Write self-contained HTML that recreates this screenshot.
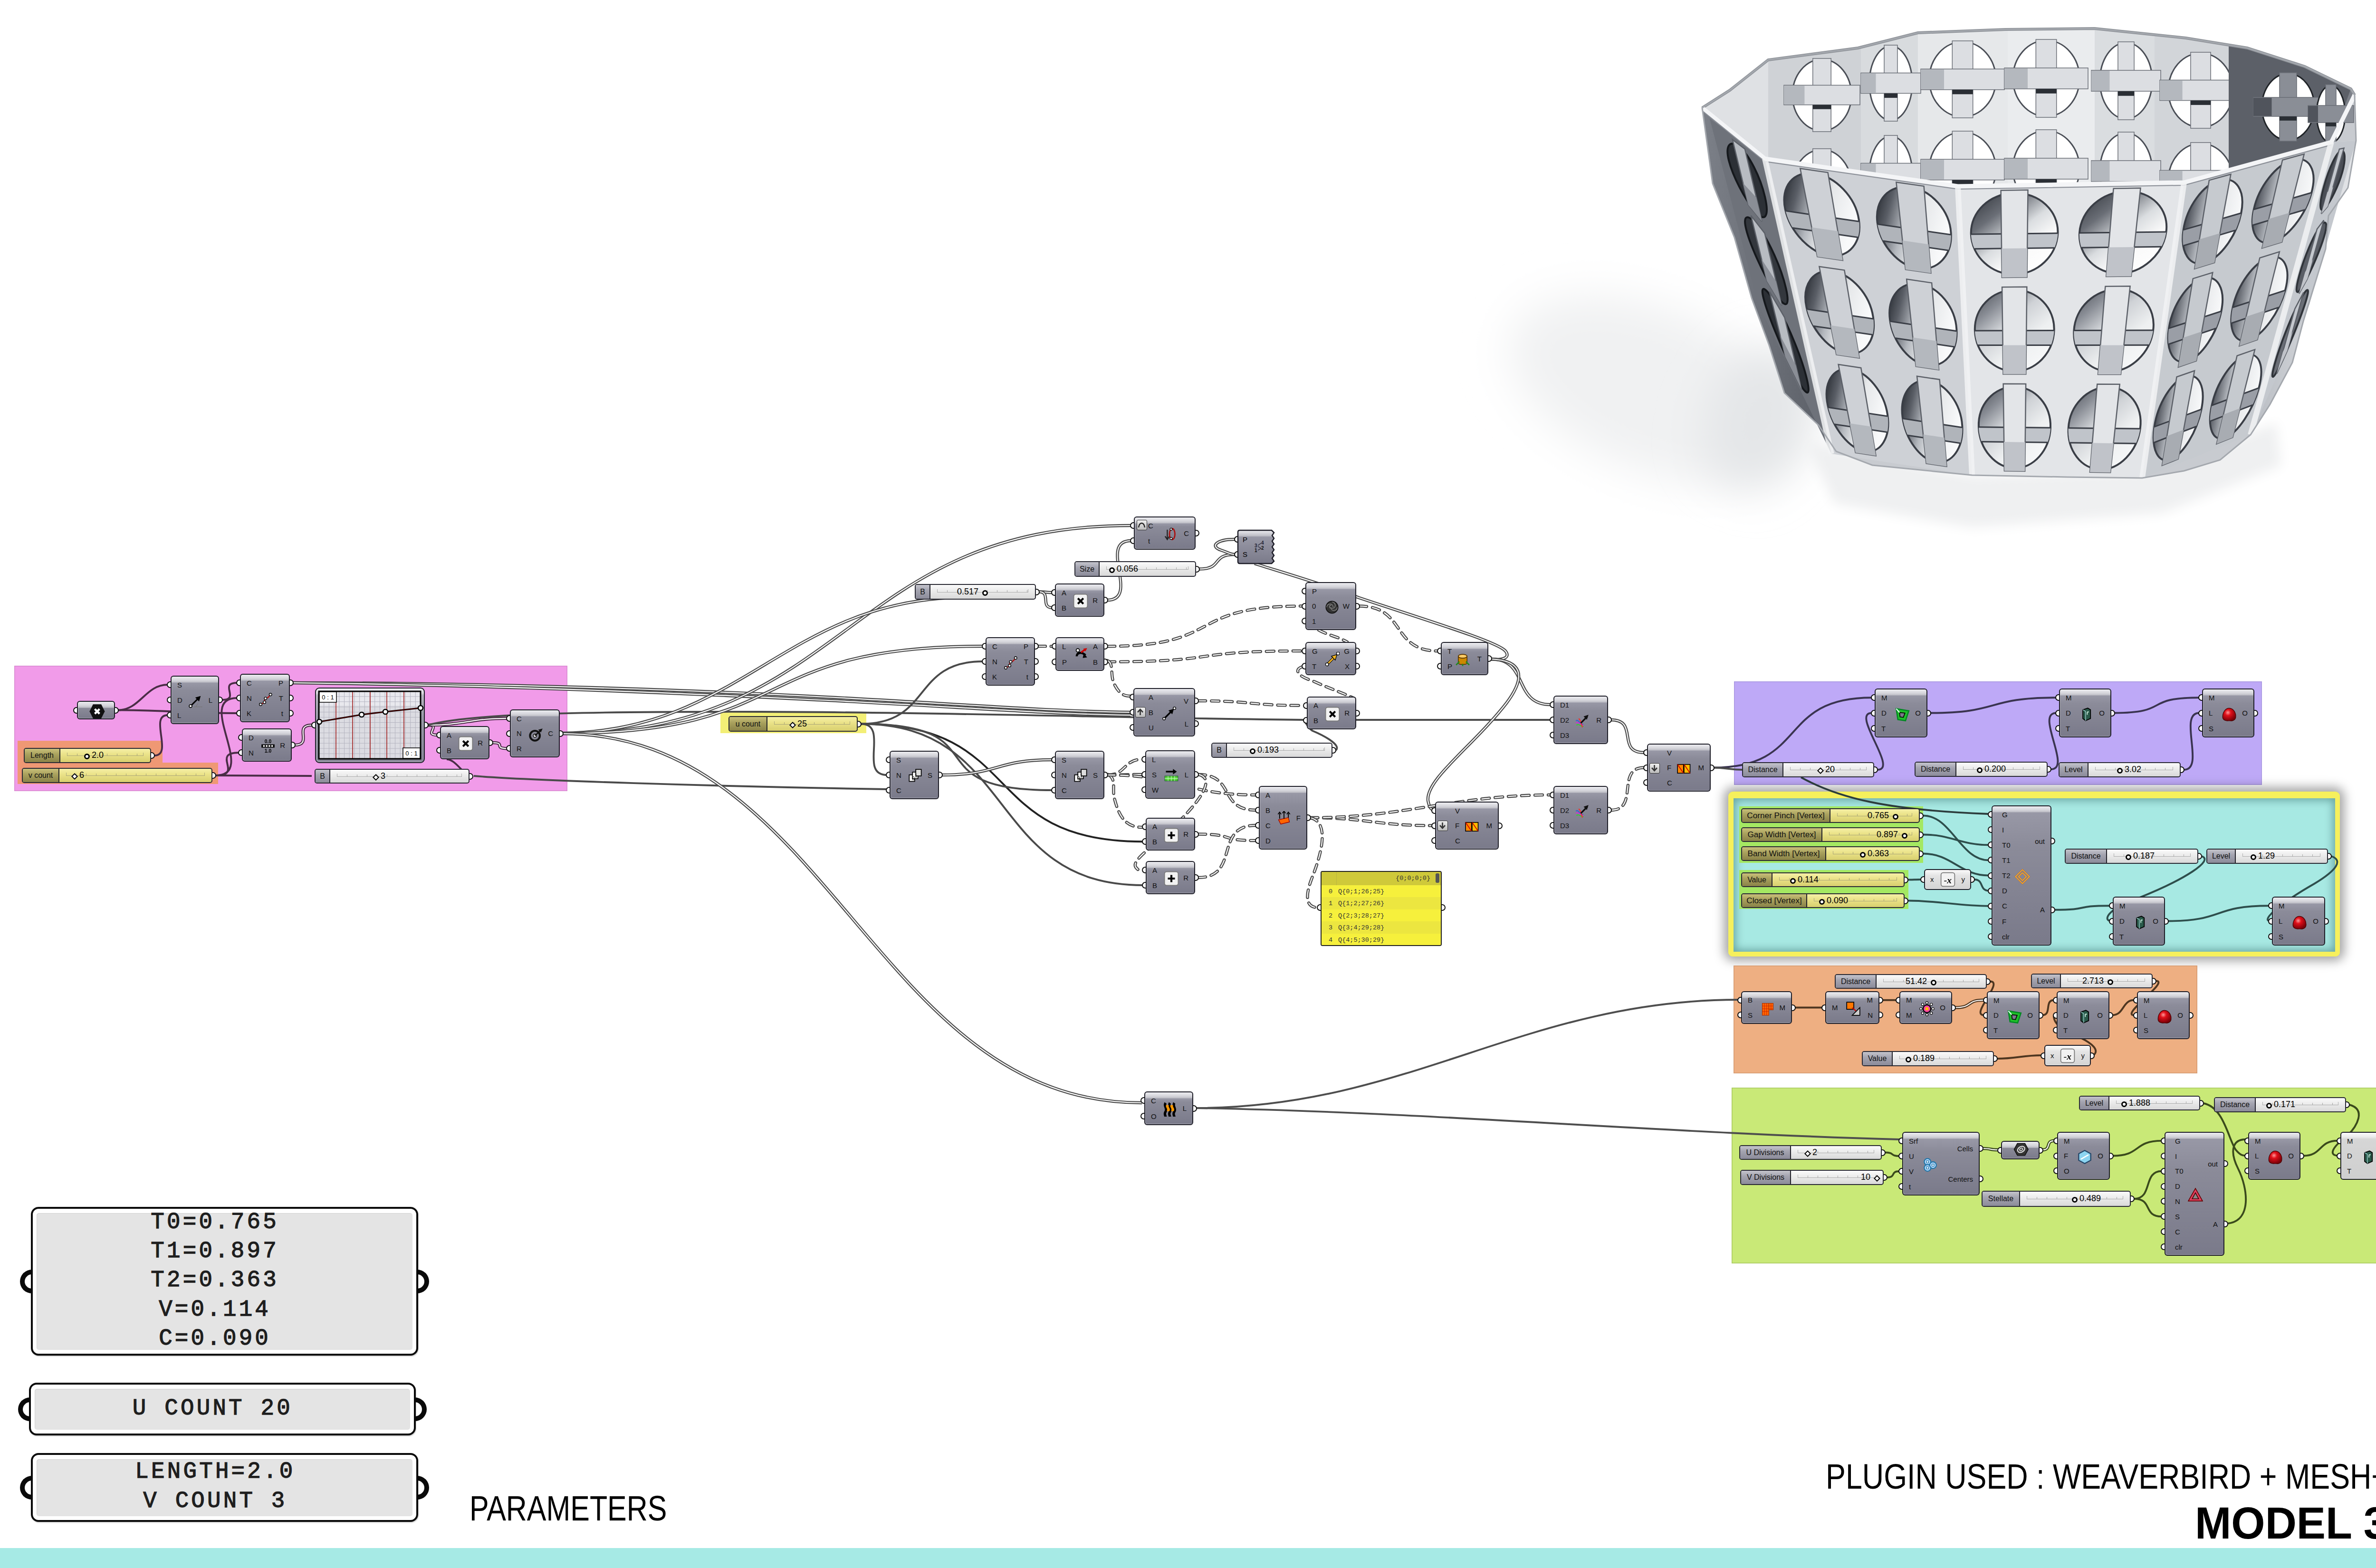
<!DOCTYPE html>
<html><head><meta charset="utf-8"><title>Grasshopper Model 3</title>
<style>html,body{margin:0;padding:0;background:#fff;}
body{width:5100px;height:3300px;overflow:hidden;font-family:"Liberation Sans",sans-serif;}
#root{position:relative;width:5100px;height:3300px;overflow:hidden;background:#fff;}
svg.wires{position:absolute;left:0;top:0;}
.c{position:absolute;box-sizing:border-box;border:2.5px solid #1e1e28;border-radius:6px;
 background:linear-gradient(180deg,#ececf0 0px,#d4d4da 8px,#bdbdc5 12px,#9898a6 13px,#8b8b99 30%,#7a7a8a 100%);
 box-shadow:inset 1px -1px 0 rgba(255,255,255,.35);}
.c.light{background:linear-gradient(180deg,#fafafa 0px,#ececec 8px,#dedede 12px,#d6d6d6 13px,#cfcfcf 100%);}
.lb{position:absolute;color:#111;line-height:1;white-space:nowrap;}
.ic{position:absolute;width:28px;height:28px;transform:scale(1.15);}
.ic svg{display:block;}
.pt{position:absolute;box-sizing:border-box;background:#fff;border:2.5px solid #111;}
.pl{border-radius:9px 0 0 9px;border-right:none;}
.pr{border-radius:0 9px 9px 0;border-left:none;}
.sl{position:absolute;box-sizing:border-box;border:2px solid #2a2a34;border-radius:5px;overflow:hidden;
 background:linear-gradient(180deg,#fbfbfb 0,#f0f0f0 30%,#d9d9d9 100%);}
.sll{position:absolute;left:0;top:0;bottom:0;box-sizing:border-box;border-right:2px solid #22222a;
 background:linear-gradient(180deg,#c4c4cc 0,#a4a4b0 40%,#8c8c9a 100%);}
.sll span{position:absolute;left:0;right:0;top:50%;transform:translateY(-52%);text-align:center;color:#111;white-space:nowrap;line-height:1;}
.sly{background:linear-gradient(180deg,#f6f0a6 0,#ebe38a 40%,#d8cf6e 100%);}
.sly .sll{background:linear-gradient(180deg,#c9c07a 0,#aaa25e 40%,#8a8348 100%);}
.rul{position:absolute;top:50%;height:7px;margin-top:-6px;border:1px solid rgba(110,110,110,.5);border-top:none;box-sizing:border-box;background:repeating-linear-gradient(90deg,transparent 0,transparent 20px,rgba(110,110,110,.55) 20px,rgba(110,110,110,.55) 21px) left bottom/100% 4px no-repeat;}
.ko{position:absolute;width:12px;height:12px;box-sizing:border-box;border:3px solid #000;border-radius:50%;background:#fff;}
.kd{position:absolute;width:10px;height:10px;box-sizing:border-box;border:2.2px solid #000;background:#fff;transform:rotate(45deg);}
.sv{position:absolute;top:50%;transform:translateY(-55%);color:#000;line-height:1;white-space:nowrap;}
.pan{position:absolute;box-sizing:border-box;border:3.5px solid #111;border-radius:12px;background:#e3e3e3;
 box-shadow:inset 3px 3px 0 #fff, 2px 2px 2px rgba(0,0,0,.25);}
.pan .tx{position:absolute;font-family:"Liberation Mono",monospace;color:#1b1b1b;white-space:pre;line-height:1;}
.bport{position:absolute;box-sizing:border-box;width:16px;height:34px;border:4.5px solid #111;background:#fff;}
.big{position:absolute;color:#000;white-space:nowrap;line-height:1;}
</style></head>
<body>
<div id="root">
<svg style="position:absolute;left:0;top:0" width="5100" height="1300" viewBox="0 0 5100 1300"><defs><filter id="blr" x="-50%" y="-50%" width="200%" height="200%"><feGaussianBlur stdDeviation="45"/></filter><filter id="blr2" x="-20%" y="-20%" width="140%" height="140%"><feGaussianBlur stdDeviation="12"/></filter><linearGradient id="hd1" x1="0" y1="0" x2="0" y2="1"><stop offset="0" stop-color="#3e424a"/><stop offset=".3" stop-color="#6e727a"/><stop offset=".55" stop-color="#d8dade"/><stop offset="1" stop-color="#fbfbfc"/></linearGradient><linearGradient id="hd2" x1="0" y1="0" x2="0" y2="1"><stop offset="0" stop-color="#50545c"/><stop offset=".22" stop-color="#8e929a"/><stop offset=".42" stop-color="#eeeff1"/><stop offset="1" stop-color="#ffffff"/></linearGradient><linearGradient id="hd3" x1="0" y1="0" x2="0" y2="1"><stop offset="0" stop-color="#60646c"/><stop offset=".15" stop-color="#aeb2b8"/><stop offset=".32" stop-color="#f8f9fa"/><stop offset="1" stop-color="#ffffff"/></linearGradient><linearGradient id="hL" x1="0" y1="0" x2="1" y2="0.3"><stop offset="0" stop-color="#24282e"/><stop offset=".22" stop-color="#5a5e66"/><stop offset=".45" stop-color="#b4b8be"/><stop offset=".65" stop-color="#e6e8ea"/><stop offset="1" stop-color="#f8f9fa"/></linearGradient><linearGradient id="hD" x1="0" y1="0" x2="0.8" y2="1"><stop offset="0" stop-color="#2c3036"/><stop offset=".3" stop-color="#6a6e76"/><stop offset=".55" stop-color="#dadde0"/><stop offset=".75" stop-color="#fafafa"/><stop offset="1" stop-color="#ffffff"/></linearGradient><linearGradient id="hD2" x1="0" y1="0" x2="0.8" y2="1"><stop offset="0" stop-color="#44484f"/><stop offset=".25" stop-color="#8a8e96"/><stop offset=".45" stop-color="#cfd2d6"/><stop offset=".7" stop-color="#eef0f1"/><stop offset="1" stop-color="#f8f9fa"/></linearGradient><linearGradient id="lside" x1="0" y1="0" x2="1" y2="0"><stop offset="0" stop-color="#7c8088"/><stop offset="1" stop-color="#5a5e66"/></linearGradient><linearGradient id="rside" x1="0" y1="0" x2="1" y2="0"><stop offset="0" stop-color="#b8bcc2"/><stop offset="1" stop-color="#e4e6e9"/></linearGradient></defs><ellipse cx="3480" cy="820" rx="320" ry="170" fill="#f0f1f2" transform="rotate(22 3480 820)" filter="url(#blr)"/><ellipse cx="3700" cy="880" rx="110" ry="150" fill="#e4e6e8" transform="rotate(20 3700 880)" filter="url(#blr)"/><path d="M3800,930 L4150,1000 L4530,990 L4790,890 L4800,980 L4550,1080 L4150,1110 L3860,1060 Z" fill="#eff0f1" filter="url(#blr2)"/><path d="M3582.0,227.0 L3640.0,190.0 L3721.0,126.0 L3910.0,101.0 L4036.0,69.0 L4220.0,62.0 L4408.0,60.0 L4600.0,80.0 L4729.0,101.0 L4850.0,140.0 L4947.0,187.0 L4955.0,200.0 L4958.0,296.0 L4941.0,395.0 L4900.0,454.0 L4894.0,524.0 L4847.0,676.0 L4824.0,763.0 L4777.0,851.0 L4736.0,915.0 L4672.0,968.0 L4596.0,991.0 L4508.0,1006.0 L4350.0,1004.0 L4150.0,1000.0 L3940.0,979.0 L3864.0,950.0 L3827.0,895.0 L3755.0,827.0 L3723.0,727.0 L3686.0,627.0 L3650.0,500.0 L3604.0,386.0 Z" fill="#c8cbd0"/><path d="M3582.0,227.0 L3640.0,190.0 L3721.0,126.0 L3910.0,101.0 L4036.0,69.0 L4220.0,62.0 L4408.0,60.0 L4600.0,80.0 L4729.0,101.0 L4850.0,140.0 L4947.0,187.0 L4955.0,200.0 L4955.0,200.0 L4906.0,299.0 L4596.0,384.0 L4120.0,392.0 L3714.0,334.0 L3582.0,227.0 Z" fill="#dfe1e4"/><path d="M3721,40 L3916,40 L3916,420 L3721,420 Z" fill="#cfd2d6" clip-path="url(#cinner)"/><path d="M3916,40 L4036,40 L4036,420 L3916,420 Z" fill="#d8dbde" clip-path="url(#cinner)"/><path d="M4036,40 L4225,40 L4225,420 L4036,420 Z" fill="#e6e8ea" clip-path="url(#cinner)"/><path d="M4225,40 L4408,40 L4408,420 L4225,420 Z" fill="#eaecee" clip-path="url(#cinner)"/><path d="M4408,40 L4534,40 L4534,420 L4408,420 Z" fill="#dadde0" clip-path="url(#cinner)"/><path d="M4534,40 L4729,40 L4729,420 L4534,420 Z" fill="#d2d5d9" clip-path="url(#cinner)"/><path d="M4729,40 L4950,40 L4950,420 L4729,420 Z" fill="#7c8088" clip-path="url(#cinner)"/><ellipse cx="3834" cy="200" rx="62" ry="75" fill="#ffffff" stroke="#4a4e56" stroke-width="3"/><rect x="3814.78" y="123" width="38.44" height="154" fill="#dcdee2" stroke="#6a6e76" stroke-width="1.5"/><rect x="3754" y="179.375" width="160" height="41.25" fill="#dcdee2" stroke="#6a6e76" stroke-width="1.5"/><rect x="3754" y="180.375" width="43.4" height="39.25" fill="#b4b8be"/><rect x="3814.78" y="220.625" width="38.44" height="9.075" fill="#2a2e34"/><ellipse cx="3834" cy="390" rx="62" ry="75" fill="#ffffff" stroke="#4a4e56" stroke-width="3"/><rect x="3814.78" y="313" width="38.44" height="154" fill="#dcdee2" stroke="#6a6e76" stroke-width="1.5"/><rect x="3754" y="369.375" width="160" height="41.25" fill="#dcdee2" stroke="#6a6e76" stroke-width="1.5"/><rect x="3754" y="370.375" width="43.4" height="39.25" fill="#b4b8be"/><rect x="3814.78" y="410.625" width="38.44" height="9.075" fill="#2a2e34"/><ellipse cx="3979" cy="175" rx="45" ry="78" fill="#ffffff" stroke="#4a4e56" stroke-width="3"/><rect x="3965.05" y="95" width="27.9" height="160" fill="#dcdee2" stroke="#6a6e76" stroke-width="1.5"/><rect x="3916" y="153.55" width="126" height="42.900000000000006" fill="#dcdee2" stroke="#6a6e76" stroke-width="1.5"/><rect x="3916" y="154.55" width="31.499999999999996" height="40.900000000000006" fill="#b4b8be"/><rect x="3965.05" y="196.45" width="27.9" height="9.438" fill="#2a2e34"/><ellipse cx="3979" cy="365" rx="45" ry="78" fill="#ffffff" stroke="#4a4e56" stroke-width="3"/><rect x="3965.05" y="285" width="27.9" height="160" fill="#dcdee2" stroke="#6a6e76" stroke-width="1.5"/><rect x="3916" y="343.55" width="126" height="42.900000000000006" fill="#dcdee2" stroke="#6a6e76" stroke-width="1.5"/><rect x="3916" y="344.55" width="31.499999999999996" height="40.900000000000006" fill="#b4b8be"/><rect x="3965.05" y="386.45" width="27.9" height="9.438" fill="#2a2e34"/><ellipse cx="4130" cy="167" rx="70" ry="79" fill="#ffffff" stroke="#4a4e56" stroke-width="3"/><rect x="4108.3" y="86" width="43.4" height="162" fill="#dcdee2" stroke="#6a6e76" stroke-width="1.5"/><rect x="4042" y="145.275" width="176" height="43.45" fill="#dcdee2" stroke="#6a6e76" stroke-width="1.5"/><rect x="4042" y="146.275" width="49.0" height="41.45" fill="#b4b8be"/><rect x="4108.3" y="188.725" width="43.4" height="9.559000000000001" fill="#2a2e34"/><ellipse cx="4130" cy="357" rx="70" ry="79" fill="#ffffff" stroke="#4a4e56" stroke-width="3"/><rect x="4108.3" y="276" width="43.4" height="162" fill="#dcdee2" stroke="#6a6e76" stroke-width="1.5"/><rect x="4042" y="335.275" width="176" height="43.45" fill="#dcdee2" stroke="#6a6e76" stroke-width="1.5"/><rect x="4042" y="336.275" width="49.0" height="41.45" fill="#b4b8be"/><rect x="4108.3" y="378.725" width="43.4" height="9.559000000000001" fill="#2a2e34"/><ellipse cx="4306" cy="165" rx="70" ry="80" fill="#ffffff" stroke="#4a4e56" stroke-width="3"/><rect x="4284.3" y="83" width="43.4" height="164" fill="#dcdee2" stroke="#6a6e76" stroke-width="1.5"/><rect x="4218" y="143.0" width="176" height="44.0" fill="#dcdee2" stroke="#6a6e76" stroke-width="1.5"/><rect x="4218" y="144.0" width="49.0" height="42.0" fill="#b4b8be"/><rect x="4284.3" y="187.0" width="43.4" height="9.68" fill="#2a2e34"/><ellipse cx="4306" cy="355" rx="70" ry="80" fill="#ffffff" stroke="#4a4e56" stroke-width="3"/><rect x="4284.3" y="273" width="43.4" height="164" fill="#dcdee2" stroke="#6a6e76" stroke-width="1.5"/><rect x="4218" y="333.0" width="176" height="44.0" fill="#dcdee2" stroke="#6a6e76" stroke-width="1.5"/><rect x="4218" y="334.0" width="49.0" height="42.0" fill="#b4b8be"/><rect x="4284.3" y="377.0" width="43.4" height="9.68" fill="#2a2e34"/><ellipse cx="4474" cy="170" rx="55" ry="80" fill="#ffffff" stroke="#4a4e56" stroke-width="3"/><rect x="4456.95" y="88" width="34.1" height="164" fill="#dcdee2" stroke="#6a6e76" stroke-width="1.5"/><rect x="4401" y="148.0" width="146" height="44.0" fill="#dcdee2" stroke="#6a6e76" stroke-width="1.5"/><rect x="4401" y="149.0" width="38.5" height="42.0" fill="#b4b8be"/><rect x="4456.95" y="192.0" width="34.1" height="9.68" fill="#2a2e34"/><ellipse cx="4474" cy="360" rx="55" ry="80" fill="#ffffff" stroke="#4a4e56" stroke-width="3"/><rect x="4456.95" y="278" width="34.1" height="164" fill="#dcdee2" stroke="#6a6e76" stroke-width="1.5"/><rect x="4401" y="338.0" width="146" height="44.0" fill="#dcdee2" stroke="#6a6e76" stroke-width="1.5"/><rect x="4401" y="339.0" width="38.5" height="42.0" fill="#b4b8be"/><rect x="4456.95" y="382.0" width="34.1" height="9.68" fill="#2a2e34"/><ellipse cx="4631" cy="190" rx="68" ry="78" fill="#ffffff" stroke="#4a4e56" stroke-width="3"/><rect x="4609.92" y="110" width="42.16" height="160" fill="#dcdee2" stroke="#6a6e76" stroke-width="1.5"/><rect x="4545" y="168.55" width="172" height="42.900000000000006" fill="#dcdee2" stroke="#6a6e76" stroke-width="1.5"/><rect x="4545" y="169.55" width="47.599999999999994" height="40.900000000000006" fill="#b4b8be"/><rect x="4609.92" y="211.45" width="42.16" height="9.438" fill="#2a2e34"/><ellipse cx="4631" cy="380" rx="68" ry="78" fill="#ffffff" stroke="#4a4e56" stroke-width="3"/><rect x="4609.92" y="300" width="42.16" height="160" fill="#dcdee2" stroke="#6a6e76" stroke-width="1.5"/><rect x="4545" y="358.55" width="172" height="42.900000000000006" fill="#dcdee2" stroke="#6a6e76" stroke-width="1.5"/><rect x="4545" y="359.55" width="47.599999999999994" height="40.900000000000006" fill="#b4b8be"/><rect x="4609.92" y="401.45" width="42.16" height="9.438" fill="#2a2e34"/><path d="M4690,95 L4729,101 L4850,140 L4947,187 L4906,299 L4760,345 L4690,360 Z" fill="#5c6068"/><ellipse cx="4815" cy="225" rx="55" ry="70" fill="#ffffff" stroke="#202428" stroke-width="3"/><rect x="4797.0" y="153" width="36" height="144" fill="#8a8e96" stroke="#6a6e76" stroke-width="1.5"/><rect x="4742" y="205.0" width="146" height="40" fill="#8a8e96" stroke="#6a6e76" stroke-width="1.5"/><rect x="4742" y="206.0" width="38.5" height="38" fill="#50545c"/><rect x="4797.0" y="245.0" width="36" height="8.8" fill="#2a2e34"/><ellipse cx="4905" cy="240" rx="30" ry="60" fill="#ffffff" stroke="#202428" stroke-width="3"/><rect x="4894.0" y="178" width="22" height="124" fill="#8a8e96" stroke="#6a6e76" stroke-width="1.5"/><rect x="4857" y="222.0" width="96" height="36" fill="#8a8e96" stroke="#6a6e76" stroke-width="1.5"/><rect x="4857" y="223.0" width="21.0" height="34" fill="#50545c"/><rect x="4894.0" y="258.0" width="22" height="7.92" fill="#2a2e34"/><clipPath id="cinner"><path d="M3582.0,227.0 L3640.0,190.0 L3721.0,126.0 L3910.0,101.0 L4036.0,69.0 L4220.0,62.0 L4408.0,60.0 L4600.0,80.0 L4729.0,101.0 L4850.0,140.0 L4947.0,187.0 L4955.0,200.0 L4955.0,200.0 L4906.0,299.0 L4596.0,384.0 L4120.0,392.0 L3714.0,334.0 L3582.0,227.0 Z"/></clipPath><path d="M3582,227 L3640,190 L3721,126 L3910,101 L4036,69 L4220,62 L4408,60 L4600,80 L4729,101 L4850,140 L4947,187 L4955,200" fill="none" stroke="#8e9298" stroke-width="6"/><path d="M3582.0,227.0 L3714.0,334.0 L3854.0,955.0 L3827.0,895.0 L3755.0,827.0 L3723.0,727.0 L3686.0,627.0 L3650.0,500.0 L3604.0,386.0 Z" fill="url(#lside)"/><path d="M3598.0,250.0 L3714.0,334.0 L3854.0,955.0 L3700.0,640.0 Z" fill="#6e727a"/><path d="M3660.0,308.9 C3680.1,324.6 3704.3,371.7 3714.1,414.2 C3723.9,456.7 3714.1,469.9 3692.3,443.6 C3670.5,417.4 3646.3,370.2 3638.2,338.3 C3630.2,306.3 3640.0,293.1 3660.0,308.9 Z" fill="#2c3036" stroke="#15181c" stroke-width="4"/><path d="M3645.8,293.8 L3671.9,313.8 L3707.8,466.1 L3679.2,431.3 Z" fill="#b8bcc2" stroke="#5c6068" stroke-width="2.5"/><path d="M3668.1,385.6 L3695.8,415.4 L3707.8,466.1 L3679.2,431.3 Z" fill="#8a8e96"/><path d="M3700.4,477.4 C3722.6,506.2 3748.6,564.1 3758.3,606.6 C3768.1,649.1 3756.6,651.6 3732.6,612.1 C3708.7,572.7 3682.7,514.9 3674.7,482.9 C3666.6,451.0 3678.1,448.5 3700.4,477.4 Z" fill="#33373d" stroke="#15181c" stroke-width="4"/><path d="M3684.7,453.7 L3713.6,490.9 L3749.5,643.2 L3718.2,591.2 Z" fill="#b8bcc2" stroke="#5c6068" stroke-width="2.5"/><path d="M3707.0,545.5 L3737.6,592.5 L3749.5,643.2 L3718.2,591.2 Z" fill="#8a8e96"/><path d="M3740.7,645.8 C3765.1,687.9 3792.8,756.5 3802.6,799.0 C3812.4,841.5 3799.1,833.3 3773.0,780.6 C3746.8,728.0 3719.1,659.5 3711.1,627.5 C3703.0,595.6 3716.3,603.8 3740.7,645.8 Z" fill="#2c3036" stroke="#15181c" stroke-width="4"/><path d="M3723.6,613.6 L3755.4,668.0 L3791.3,820.3 L3757.1,751.2 Z" fill="#b8bcc2" stroke="#5c6068" stroke-width="2.5"/><path d="M3746.0,705.4 L3779.3,769.6 L3791.3,820.3 L3757.1,751.2 Z" fill="#8a8e96"/><path d="M3714.0,334.0 L4120.0,392.0 L4150.0,1000.0 L3854.0,955.0 Z" fill="#ced1d6"/><path d="M3818.5,365.0 C3863.0,371.3 3904.8,415.1 3911.8,462.6 C3918.8,510.2 3891.1,543.9 3850.0,537.9 C3808.9,532.0 3767.1,488.3 3756.7,440.3 C3746.3,392.3 3774.0,358.6 3818.5,365.0 Z" fill="url(#hL)" stroke="#3a3e46" stroke-width="4"/><clipPath id="hc1"><path d="M3818.5,365.0 C3863.0,371.3 3904.8,415.1 3911.8,462.6 C3918.8,510.2 3891.1,543.9 3850.0,537.9 C3808.9,532.0 3767.1,488.3 3756.7,440.3 C3746.3,392.3 3774.0,358.6 3818.5,365.0 Z"/></clipPath><g clip-path="url(#hc1)"><path d="M3738.1,441.0 L3931.6,468.9 L3936.4,503.3 L3746.0,475.8 Z" fill="#b0b4ba" stroke="#3a3e46" stroke-width="3"/></g><path d="M3788.3,354.6 L3846.5,363.0 L3877.8,548.0 L3824.4,540.2 Z" fill="#ced1d6" stroke="#5c6068" stroke-width="2.5"/><path d="M3812.4,478.6 L3867.4,486.6 L3877.8,548.0 L3824.4,540.2 Z" fill="#b4b8be"/><path d="M4020.0,393.8 C4064.6,400.2 4102.9,443.5 4105.6,490.5 C4108.4,537.6 4077.3,570.9 4036.1,565.0 C3995.0,559.0 3956.7,515.7 3950.6,468.2 C3944.4,420.7 3975.5,387.4 4020.0,393.8 Z" fill="url(#hL)" stroke="#3a3e46" stroke-width="4"/><clipPath id="hc2"><path d="M4020.0,393.8 C4064.6,400.2 4102.9,443.5 4105.6,490.5 C4108.4,537.6 4077.3,570.9 4036.1,565.0 C3995.0,559.0 3956.7,515.7 3950.6,468.2 C3944.4,420.7 3975.5,387.4 4020.0,393.8 Z"/></clipPath><g clip-path="url(#hc2)"><path d="M3931.6,468.9 L4125.2,496.7 L4126.8,530.8 L3936.4,503.3 Z" fill="#b0b4ba" stroke="#3a3e46" stroke-width="3"/></g><path d="M3990.4,383.5 L4048.6,391.8 L4063.4,574.9 L4010.0,567.2 Z" fill="#ced1d6" stroke="#5c6068" stroke-width="2.5"/><path d="M4003.5,506.2 L4058.5,514.2 L4063.4,574.9 L4010.0,567.2 Z" fill="#b4b8be"/><path d="M3856.0,570.9 C3896.5,576.8 3935.0,620.1 3941.9,667.7 C3948.9,715.2 3924.6,749.3 3887.5,743.9 C3850.4,738.4 3811.9,695.0 3801.6,647.1 C3791.2,599.1 3815.5,565.0 3856.0,570.9 Z" fill="url(#hL)" stroke="#3a3e46" stroke-width="4"/><clipPath id="hc3"><path d="M3856.0,570.9 C3896.5,576.8 3935.0,620.1 3941.9,667.7 C3948.9,715.2 3924.6,749.3 3887.5,743.9 C3850.4,738.4 3811.9,695.0 3801.6,647.1 C3791.2,599.1 3815.5,565.0 3856.0,570.9 Z"/></clipPath><g clip-path="url(#hc3)"><path d="M3784.8,648.0 L3960.0,673.7 L3964.7,708.1 L3792.6,682.8 Z" fill="#b0b4ba" stroke="#3a3e46" stroke-width="3"/></g><path d="M3828.4,560.9 L3881.3,568.6 L3912.7,753.6 L3864.5,746.5 Z" fill="#ced1d6" stroke="#5c6068" stroke-width="2.5"/><path d="M3852.5,684.8 L3902.3,692.2 L3912.7,753.6 L3864.5,746.5 Z" fill="#b4b8be"/><path d="M4039.2,597.5 C4079.7,603.4 4114.7,646.4 4117.4,693.4 C4120.2,740.5 4092.4,774.2 4055.3,768.7 C4018.2,763.2 3983.2,720.3 3977.1,672.8 C3970.9,625.4 3998.7,591.7 4039.2,597.5 Z" fill="url(#hL)" stroke="#3a3e46" stroke-width="4"/><clipPath id="hc4"><path d="M4039.2,597.5 C4079.7,603.4 4114.7,646.4 4117.4,693.4 C4120.2,740.5 4092.4,774.2 4055.3,768.7 C4018.2,763.2 3983.2,720.3 3977.1,672.8 C3970.9,625.4 3998.7,591.7 4039.2,597.5 Z"/></clipPath><g clip-path="url(#hc4)"><path d="M3960.0,673.7 L4135.2,699.4 L4136.8,733.5 L3964.7,708.1 Z" fill="#b0b4ba" stroke="#3a3e46" stroke-width="3"/></g><path d="M4012.2,587.6 L4065.1,595.3 L4080.0,778.4 L4031.8,771.2 Z" fill="#ced1d6" stroke="#5c6068" stroke-width="2.5"/><path d="M4025.3,710.3 L4075.0,717.6 L4080.0,778.4 L4031.8,771.2 Z" fill="#b4b8be"/><path d="M3893.5,776.8 C3929.9,782.2 3965.1,825.2 3972.1,872.7 C3979.1,920.3 3958.0,954.8 3925.0,949.8 C3892.0,944.8 3856.8,901.8 3846.4,853.9 C3836.0,805.9 3857.1,771.4 3893.5,776.8 Z" fill="url(#hL)" stroke="#3a3e46" stroke-width="4"/><clipPath id="hc5"><path d="M3893.5,776.8 C3929.9,782.2 3965.1,825.2 3972.1,872.7 C3979.1,920.3 3958.0,954.8 3925.0,949.8 C3892.0,944.8 3856.8,901.8 3846.4,853.9 C3836.0,805.9 3857.1,771.4 3893.5,776.8 Z"/></clipPath><g clip-path="url(#hc5)"><path d="M3831.5,855.0 L3988.3,878.5 L3993.1,912.9 L3839.3,889.8 Z" fill="#b0b4ba" stroke="#3a3e46" stroke-width="3"/></g><path d="M3868.6,767.1 L3916.2,774.2 L3947.6,959.2 L3904.7,952.7 Z" fill="#ced1d6" stroke="#5c6068" stroke-width="2.5"/><path d="M3892.7,891.1 L3937.2,897.8 L3947.6,959.2 L3904.7,952.7 Z" fill="#b4b8be"/><path d="M4058.4,801.3 C4094.8,806.7 4126.5,849.2 4129.3,896.3 C4132.0,943.4 4107.5,977.5 4074.5,972.4 C4041.4,967.4 4009.7,924.9 4003.6,877.4 C3997.4,830.0 4021.9,795.9 4058.4,801.3 Z" fill="url(#hL)" stroke="#3a3e46" stroke-width="4"/><clipPath id="hc6"><path d="M4058.4,801.3 C4094.8,806.7 4126.5,849.2 4129.3,896.3 C4132.0,943.4 4107.5,977.5 4074.5,972.4 C4041.4,967.4 4009.7,924.9 4003.6,877.4 C3997.4,830.0 4021.9,795.9 4058.4,801.3 Z"/></clipPath><g clip-path="url(#hc6)"><path d="M3988.3,878.5 L4145.2,902.1 L4146.8,936.1 L3993.1,912.9 Z" fill="#b0b4ba" stroke="#3a3e46" stroke-width="3"/></g><path d="M4034.0,791.7 L4081.6,798.7 L4096.5,981.8 L4053.6,975.3 Z" fill="#ced1d6" stroke="#5c6068" stroke-width="2.5"/><path d="M4047.1,914.3 L4091.5,921.0 L4096.5,981.8 L4053.6,975.3 Z" fill="#b4b8be"/><path d="M4120.0,392.0 L4596.0,384.0 L4508.0,1006.0 L4150.0,1000.0 Z" fill="#e3e5e8"/><path d="M4239.0,406.3 C4291.2,405.5 4332.1,443.3 4330.4,490.8 C4328.6,538.3 4287.7,577.1 4239.2,577.5 C4190.6,577.9 4149.7,540.1 4147.8,493.1 C4146.0,446.0 4186.8,407.1 4239.0,406.3 Z" fill="url(#hD)" stroke="#3a3e46" stroke-width="4"/><clipPath id="hc7"><path d="M4239.0,406.3 C4291.2,405.5 4332.1,443.3 4330.4,490.8 C4328.6,538.3 4287.7,577.1 4239.2,577.5 C4190.6,577.9 4149.7,540.1 4147.8,493.1 C4146.0,446.0 4186.8,407.1 4239.0,406.3 Z"/></clipPath><g clip-path="url(#hc7)"><path d="M4125.0,493.3 L4353.2,490.5 L4351.7,521.5 L4126.5,524.0 Z" fill="#c0c4ca" stroke="#3a3e46" stroke-width="3"/></g><path d="M4210.6,400.7 L4267.5,399.7 L4265.5,583.4 L4212.8,583.9 Z" fill="#e3e5e8" stroke="#5c6068" stroke-width="2.5"/><path d="M4212.1,523.0 L4266.1,522.4 L4265.5,583.4 L4212.8,583.9 Z" fill="#c0c3c9"/><path d="M4475.4,402.5 C4527.7,401.7 4564.9,439.9 4558.5,487.9 C4552.2,536.0 4507.6,575.3 4459.1,575.7 C4410.5,576.1 4373.3,537.8 4376.0,490.2 C4378.7,442.6 4423.2,403.3 4475.4,402.5 Z" fill="url(#hD)" stroke="#3a3e46" stroke-width="4"/><clipPath id="hc8"><path d="M4475.4,402.5 C4527.7,401.7 4564.9,439.9 4558.5,487.9 C4552.2,536.0 4507.6,575.3 4459.1,575.7 C4410.5,576.1 4373.3,537.8 4376.0,490.2 C4378.7,442.6 4423.2,403.3 4475.4,402.5 Z"/></clipPath><g clip-path="url(#hc8)"><path d="M4353.2,490.5 L4581.3,487.7 L4576.9,519.0 L4351.7,521.5 Z" fill="#c0c4ca" stroke="#3a3e46" stroke-width="3"/></g><path d="M4447.6,396.8 L4504.5,395.8 L4484.8,581.6 L4432.2,582.1 Z" fill="#e3e5e8" stroke="#5c6068" stroke-width="2.5"/><path d="M4437.3,520.6 L4491.3,520.0 L4484.8,581.6 L4432.2,582.1 Z" fill="#c0c3c9"/><path d="M4239.2,610.1 C4287.1,609.8 4324.4,648.1 4322.6,695.5 C4320.9,743.0 4283.6,781.5 4239.3,781.4 C4195.1,781.3 4157.7,743.0 4155.9,696.0 C4154.0,648.9 4191.3,610.5 4239.2,610.1 Z" fill="url(#hD2)" stroke="#3a3e46" stroke-width="4"/><clipPath id="hc9"><path d="M4239.2,610.1 C4287.1,609.8 4324.4,648.1 4322.6,695.5 C4320.9,743.0 4283.6,781.5 4239.3,781.4 C4195.1,781.3 4157.7,743.0 4155.9,696.0 C4154.0,648.9 4191.3,610.5 4239.2,610.1 Z"/></clipPath><g clip-path="url(#hc9)"><path d="M4135.0,696.0 L4343.5,695.5 L4342.0,726.5 L4136.5,726.6 Z" fill="#c0c4ca" stroke="#3a3e46" stroke-width="3"/></g><path d="M4213.1,604.2 L4265.3,603.8 L4263.3,787.5 L4215.4,787.4 Z" fill="#e3e5e8" stroke="#5c6068" stroke-width="2.5"/><path d="M4214.6,726.6 L4263.9,726.6 L4263.3,787.5 L4215.4,787.4 Z" fill="#c0c3c9"/><path d="M4455.9,608.7 C4503.8,608.3 4537.5,647.0 4531.1,695.0 C4524.8,743.1 4483.8,781.9 4439.6,781.8 C4395.3,781.7 4361.7,743.1 4364.4,695.5 C4367.0,647.8 4408.1,609.0 4455.9,608.7 Z" fill="url(#hD2)" stroke="#3a3e46" stroke-width="4"/><clipPath id="hc10"><path d="M4455.9,608.7 C4503.8,608.3 4537.5,647.0 4531.1,695.0 C4524.8,743.1 4483.8,781.9 4439.6,781.8 C4395.3,781.7 4361.7,743.1 4364.4,695.5 C4367.0,647.8 4408.1,609.0 4455.9,608.7 Z"/></clipPath><g clip-path="url(#hc10)"><path d="M4343.5,695.5 L4552.0,695.0 L4547.6,726.3 L4342.0,726.5 Z" fill="#c0c4ca" stroke="#3a3e46" stroke-width="3"/></g><path d="M4430.4,602.7 L4482.6,602.3 L4462.9,788.1 L4415.0,788.0 Z" fill="#e3e5e8" stroke="#5c6068" stroke-width="2.5"/><path d="M4420.1,726.4 L4469.5,726.4 L4462.9,788.1 L4415.0,788.0 Z" fill="#c0c3c9"/><path d="M4239.3,814.0 C4282.9,814.2 4316.7,852.8 4315.0,900.3 C4313.2,947.8 4279.4,985.8 4239.5,985.2 C4199.6,984.6 4165.7,945.9 4163.9,898.8 C4162.0,851.8 4195.8,813.8 4239.3,814.0 Z" fill="url(#hD2)" stroke="#3a3e46" stroke-width="4"/><clipPath id="hc11"><path d="M4239.3,814.0 C4282.9,814.2 4316.7,852.8 4315.0,900.3 C4313.2,947.8 4279.4,985.8 4239.5,985.2 C4199.6,984.6 4165.7,945.9 4163.9,898.8 C4162.0,851.8 4195.8,813.8 4239.3,814.0 Z"/></clipPath><g clip-path="url(#hc11)"><path d="M4145.0,898.7 L4333.8,900.5 L4332.4,931.5 L4146.5,929.3 Z" fill="#c0c4ca" stroke="#3a3e46" stroke-width="3"/></g><path d="M4215.6,807.8 L4263.1,808.0 L4261.1,991.7 L4217.9,991.0 Z" fill="#e3e5e8" stroke="#5c6068" stroke-width="2.5"/><path d="M4217.1,930.1 L4261.7,930.7 L4261.1,991.7 L4217.9,991.0 Z" fill="#c0c3c9"/><path d="M4436.4,814.8 C4480.0,815.0 4510.1,854.1 4503.8,902.1 C4497.4,950.2 4460.0,988.6 4420.1,988.0 C4380.2,987.4 4350.0,948.3 4352.7,900.7 C4355.4,853.1 4392.9,814.6 4436.4,814.8 Z" fill="url(#hD2)" stroke="#3a3e46" stroke-width="4"/><clipPath id="hc12"><path d="M4436.4,814.8 C4480.0,815.0 4510.1,854.1 4503.8,902.1 C4497.4,950.2 4460.0,988.6 4420.1,988.0 C4380.2,987.4 4350.0,948.3 4352.7,900.7 C4355.4,853.1 4392.9,814.6 4436.4,814.8 Z"/></clipPath><g clip-path="url(#hc12)"><path d="M4333.8,900.5 L4522.7,902.3 L4518.2,933.7 L4332.4,931.5 Z" fill="#c0c4ca" stroke="#3a3e46" stroke-width="3"/></g><path d="M4413.3,808.5 L4460.7,808.7 L4441.1,994.5 L4397.9,993.8 Z" fill="#e3e5e8" stroke="#5c6068" stroke-width="2.5"/><path d="M4403.0,932.3 L4447.6,932.9 L4441.1,994.5 L4397.9,993.8 Z" fill="#c0c3c9"/><path d="M4596.0,384.0 L4906.0,299.0 L4736.0,915.0 L4508.0,1006.0 Z" fill="#c6cacf"/><path d="M4670.6,379.3 C4705.5,369.7 4725.9,400.7 4716.2,448.5 C4706.5,496.4 4672.5,543.2 4640.2,553.0 C4608.0,562.9 4587.6,531.9 4594.7,483.8 C4601.8,435.7 4635.8,388.9 4670.6,379.3 Z" fill="url(#hL)" stroke="#3a3e46" stroke-width="4"/><clipPath id="hc13"><path d="M4670.6,379.3 C4705.5,369.7 4725.9,400.7 4716.2,448.5 C4706.5,496.4 4672.5,543.2 4640.2,553.0 C4608.0,562.9 4587.6,531.9 4594.7,483.8 C4601.8,435.7 4635.8,388.9 4670.6,379.3 Z"/></clipPath><g clip-path="url(#hc13)"><path d="M4579.9,488.1 L4731.0,444.2 L4723.7,478.9 L4574.9,522.9 Z" fill="#9a9ea6" stroke="#3a3e46" stroke-width="3"/></g><path d="M4648.9,379.4 L4694.5,366.8 L4660.1,552.8 L4618.2,565.7 Z" fill="#c6cacf" stroke="#5c6068" stroke-width="2.5"/><path d="M4628.4,503.8 L4671.5,491.1 L4660.1,552.8 L4618.2,565.7 Z" fill="#a8acb2"/><path d="M4824.5,336.7 C4859.4,327.1 4877.2,357.9 4864.3,405.5 C4851.5,453.2 4814.9,499.8 4782.7,509.6 C4750.4,519.4 4732.6,488.6 4742.8,440.8 C4753.1,393.0 4789.7,346.4 4824.5,336.7 Z" fill="url(#hL)" stroke="#3a3e46" stroke-width="4"/><clipPath id="hc14"><path d="M4824.5,336.7 C4859.4,327.1 4877.2,357.9 4864.3,405.5 C4851.5,453.2 4814.9,499.8 4782.7,509.6 C4750.4,519.4 4732.6,488.6 4742.8,440.8 C4753.1,393.0 4789.7,346.4 4824.5,336.7 Z"/></clipPath><g clip-path="url(#hc14)"><path d="M4728.0,445.1 L4879.1,401.2 L4869.6,435.7 L4720.8,479.8 Z" fill="#9a9ea6" stroke="#3a3e46" stroke-width="3"/></g><path d="M4803.2,336.8 L4848.8,324.3 L4802.1,509.4 L4760.2,522.2 Z" fill="#c6cacf" stroke="#5c6068" stroke-width="2.5"/><path d="M4774.5,460.7 L4817.6,447.9 L4802.1,509.4 L4760.2,522.2 Z" fill="#a8acb2"/><path d="M4634.4,586.1 C4666.2,576.3 4684.1,607.1 4674.4,655.0 C4664.7,702.8 4633.2,749.8 4604.1,759.9 C4574.9,769.9 4557.0,739.1 4564.1,691.0 C4571.2,643.0 4602.7,596.0 4634.4,586.1 Z" fill="url(#hL)" stroke="#3a3e46" stroke-width="4"/><clipPath id="hc15"><path d="M4634.4,586.1 C4666.2,576.3 4684.1,607.1 4674.4,655.0 C4664.7,702.8 4633.2,749.8 4604.1,759.9 C4574.9,769.9 4557.0,739.1 4564.1,691.0 C4571.2,643.0 4602.7,596.0 4634.4,586.1 Z"/></clipPath><g clip-path="url(#hc15)"><path d="M4550.7,695.4 L4687.8,650.6 L4680.6,685.2 L4545.7,730.3 Z" fill="#9a9ea6" stroke="#3a3e46" stroke-width="3"/></g><path d="M4614.8,586.4 L4656.3,573.5 L4621.9,759.5 L4584.0,772.6 Z" fill="#c6cacf" stroke="#5c6068" stroke-width="2.5"/><path d="M4594.2,710.8 L4633.3,697.8 L4621.9,759.5 L4584.0,772.6 Z" fill="#a8acb2"/><path d="M4774.7,542.5 C4806.4,532.7 4821.8,563.3 4808.9,611.0 C4796.0,658.6 4762.0,705.4 4732.8,715.5 C4703.7,725.5 4688.3,694.9 4698.6,647.0 C4708.9,599.2 4742.9,552.4 4774.7,542.5 Z" fill="url(#hL)" stroke="#3a3e46" stroke-width="4"/><clipPath id="hc16"><path d="M4774.7,542.5 C4806.4,532.7 4821.8,563.3 4808.9,611.0 C4796.0,658.6 4762.0,705.4 4732.8,715.5 C4703.7,725.5 4688.3,694.9 4698.6,647.0 C4708.9,599.2 4742.9,552.4 4774.7,542.5 Z"/></clipPath><g clip-path="url(#hc16)"><path d="M4685.2,651.4 L4822.3,606.6 L4812.8,641.1 L4678.0,686.1 Z" fill="#9a9ea6" stroke="#3a3e46" stroke-width="3"/></g><path d="M4755.4,542.8 L4796.9,529.9 L4750.3,715.1 L4712.4,728.2 Z" fill="#c6cacf" stroke="#5c6068" stroke-width="2.5"/><path d="M4726.7,666.6 L4765.8,653.6 L4750.3,715.1 L4712.4,728.2 Z" fill="#a8acb2"/><path d="M4598.3,793.0 C4626.9,782.9 4642.3,813.5 4632.6,861.4 C4622.9,909.3 4594.0,956.4 4567.9,966.7 C4541.8,977.0 4526.5,946.4 4533.5,898.3 C4540.6,850.2 4569.6,803.1 4598.3,793.0 Z" fill="url(#hL)" stroke="#3a3e46" stroke-width="4"/><clipPath id="hc17"><path d="M4598.3,793.0 C4626.9,782.9 4642.3,813.5 4632.6,861.4 C4622.9,909.3 4594.0,956.4 4567.9,966.7 C4541.8,977.0 4526.5,946.4 4533.5,898.3 C4540.6,850.2 4569.6,803.1 4598.3,793.0 Z"/></clipPath><g clip-path="url(#hc17)"><path d="M4521.5,902.8 L4644.7,856.9 L4637.5,891.5 L4516.6,937.6 Z" fill="#9a9ea6" stroke="#3a3e46" stroke-width="3"/></g><path d="M4580.6,793.3 L4618.1,780.2 L4583.7,966.2 L4549.9,979.6 Z" fill="#c6cacf" stroke="#5c6068" stroke-width="2.5"/><path d="M4560.1,917.8 L4595.1,904.4 L4583.7,966.2 L4549.9,979.6 Z" fill="#a8acb2"/><path d="M4724.8,748.4 C4753.5,738.3 4766.3,768.7 4753.5,816.4 C4740.6,864.0 4709.0,911.0 4683.0,921.3 C4656.9,931.6 4644.1,901.1 4654.4,853.3 C4664.6,805.4 4696.2,758.5 4724.8,748.4 Z" fill="url(#hL)" stroke="#3a3e46" stroke-width="4"/><clipPath id="hc18"><path d="M4724.8,748.4 C4753.5,738.3 4766.3,768.7 4753.5,816.4 C4740.6,864.0 4709.0,911.0 4683.0,921.3 C4656.9,931.6 4644.1,901.1 4654.4,853.3 C4664.6,805.4 4696.2,758.5 4724.8,748.4 Z"/></clipPath><g clip-path="url(#hc18)"><path d="M4642.3,857.8 L4765.5,811.9 L4756.0,846.4 L4635.1,892.4 Z" fill="#9a9ea6" stroke="#3a3e46" stroke-width="3"/></g><path d="M4707.6,748.8 L4745.1,735.6 L4698.4,920.7 L4664.6,934.2 Z" fill="#c6cacf" stroke="#5c6068" stroke-width="2.5"/><path d="M4678.9,872.6 L4713.9,859.3 L4698.4,920.7 L4664.6,934.2 Z" fill="#a8acb2"/><path d="M4906.0,299.0 L4958.0,296.0 L4941.0,395.0 L4900.0,454.0 L4894.0,524.0 L4847.0,676.0 L4824.0,763.0 L4777.0,851.0 L4736.0,915.0 Z" fill="url(#rside)"/><path d="M4906.0,299.0 L4958.0,296.0 L4860.0,640.0 L4736.0,915.0 Z" fill="#c4c8ce"/><path d="M4926.4,317.5 C4935.5,315.1 4936.6,335.5 4928.9,363.0 C4921.1,390.5 4905.0,423.9 4892.9,437.5 C4880.8,451.1 4879.7,430.8 4890.5,392.0 C4901.2,353.2 4917.3,319.9 4926.4,317.5 Z" fill="#4a4e56" stroke="#30343a" stroke-width="4"/><path d="M4922.9,313.7 L4932.6,311.7 L4898.2,434.6 L4884.9,450.0 Z" fill="#c4c8ce" stroke="#5c6068" stroke-width="2.5"/><path d="M4897.6,404.6 L4909.7,393.6 L4898.2,434.6 L4884.9,450.0 Z" fill="#c0c3c9"/><path d="M4881.8,477.5 C4894.8,460.1 4899.2,468.3 4891.4,495.8 C4883.6,523.3 4864.3,568.8 4848.2,597.5 C4832.2,626.2 4827.9,618.0 4838.6,579.2 C4849.3,540.4 4868.7,494.9 4881.8,477.5 Z" fill="#5a5e66" stroke="#30343a" stroke-width="4"/><path d="M4876.0,481.9 L4890.1,463.5 L4855.7,586.5 L4838.1,618.1 Z" fill="#c4c8ce" stroke="#5c6068" stroke-width="2.5"/><path d="M4850.8,572.7 L4867.2,545.5 L4855.7,586.5 L4838.1,618.1 Z" fill="#c0c3c9"/><path d="M4837.1,637.5 C4854.1,605.1 4861.7,601.1 4853.9,628.6 C4846.2,656.1 4823.6,713.8 4803.6,757.5 C4783.5,801.2 4776.0,805.2 4786.7,766.4 C4797.5,727.6 4820.0,669.9 4837.1,637.5 Z" fill="#6a6e76" stroke="#30343a" stroke-width="4"/><path d="M4829.2,650.1 L4847.6,615.3 L4813.2,738.3 L4791.3,786.3 Z" fill="#c4c8ce" stroke="#5c6068" stroke-width="2.5"/><path d="M4803.9,740.9 L4824.7,697.3 L4813.2,738.3 L4791.3,786.3 Z" fill="#c0c3c9"/><path d="M3582,227 L3714,334 L4120,392 L4596,384 L4906,299 L4955,200" fill="none" stroke="#f4f5f7" stroke-width="9"/><path d="M3582,233 L3714,340 L4120,398 L4596,390 L4906,305" fill="none" stroke="#8a8e96" stroke-width="2"/><path d="M3714,334 L3854,955 M4120,392 L4150,1000 M4596,384 L4508,1006 M4906,299 L4736,915" fill="none" stroke="#f2f3f5" stroke-width="12" opacity=".85"/><path d="M3582.0,227.0 L3640.0,190.0 L3721.0,126.0 L3910.0,101.0 L4036.0,69.0 L4220.0,62.0 L4408.0,60.0 L4600.0,80.0 L4729.0,101.0 L4850.0,140.0 L4947.0,187.0 L4955.0,200.0 L4958.0,296.0 L4941.0,395.0 L4900.0,454.0 L4894.0,524.0 L4847.0,676.0 L4824.0,763.0 L4777.0,851.0 L4736.0,915.0 L4672.0,968.0 L4596.0,991.0 L4508.0,1006.0 L4350.0,1004.0 L4150.0,1000.0 L3940.0,979.0 L3864.0,950.0 L3827.0,895.0 L3755.0,827.0 L3723.0,727.0 L3686.0,627.0 L3650.0,500.0 L3604.0,386.0 Z" fill="none" stroke="#a4a8ae" stroke-width="3"/></svg><div style="position:absolute;left:30px;top:1401px;width:1164px;height:264px;background:#f19be9;box-shadow:inset 0 0 0 1.5px #d88ad0;"></div><div style="position:absolute;left:37px;top:1559px;width:305px;height:91px;background:#ef9874;"></div><div style="position:absolute;left:37px;top:1605px;width:422px;height:45px;background:#ef9874;"></div><div style="position:absolute;left:3649px;top:1434px;width:1111px;height:218px;background:#bea9f7;box-shadow:inset 0 0 0 1.5px #a898e0;"></div><div style="position:absolute;left:3637px;top:1666px;width:1287px;height:347px;background:#f8f350;box-shadow:0 0 22px 9px rgba(0,0,0,.36);border-radius:10px;"></div><div style="position:absolute;left:3637px;top:1667px;width:1287px;height:346px;background:#f6f05c;border-radius:9px;"></div><div style="position:absolute;left:3648px;top:1680px;width:1266px;height:323px;background:#a7e9e3;box-shadow:inset 0 0 18px 4px rgba(0,50,50,.38);"></div><div style="position:absolute;left:3660px;top:1697px;width:387px;height:119px;background:#a4e862;"></div><div style="position:absolute;left:3660px;top:1831px;width:356px;height:82px;background:#a4e862;"></div><div style="position:absolute;left:3648px;top:2032px;width:976px;height:227px;background:#eeaf82;box-shadow:inset 0 0 0 1.5px #d49a70;"></div><div style="position:absolute;left:3644px;top:2289px;width:1409px;height:370px;background:#c9e977;box-shadow:inset 0 0 0 1.5px #a8c860;"></div><div style="position:absolute;left:1516px;top:1499px;width:307px;height:44px;background:#f3ef76;"></div><div style="position:absolute;left:0px;top:3258px;width:5100px;height:42px;background:#a6eae5;"></div>
<svg class="wires" width="<function W at 0x7fd818633100>" height="3300" viewBox="0 0 <function W at 0x7fd818633100> 3300"><path d="M248.0,1494.5 C295.2,1494.5 305.8,1441.0 353.0,1441.0" stroke="#4a2d46" stroke-width="3.9" fill="none"/><path d="M248.0,1494.5 C360.9,1494.5 386.1,1501.0 499.0,1501.0" stroke="#4a2d46" stroke-width="3.9" fill="none"/><path d="M325.0,1590.0 C365.0,1590.0 313.0,1505.0 353.0,1505.0" stroke="#4a2d46" stroke-width="3.9" fill="none"/><path d="M467.0,1473.0 C507.0,1473.0 459.0,1437.0 499.0,1437.0" stroke="#4a2d46" stroke-width="3.9" fill="none"/><path d="M454.0,1632.0 C544.0,1632.0 409.0,1469.0 499.0,1469.0" stroke="#4a2d46" stroke-width="3.9" fill="none"/><path d="M454.0,1632.0 C514.0,1632.0 443.0,1584.0 503.0,1584.0" stroke="#4a2d46" stroke-width="3.9" fill="none"/><path d="M620.0,1568.0 C660.0,1568.0 616.0,1526.0 656.0,1526.0" stroke="#4a2d46" stroke-width="6.5" fill="none"/><path d="M620.0,1568.0 C660.0,1568.0 616.0,1526.0 656.0,1526.0" stroke="#fff" stroke-width="2.2" fill="none"/><path d="M900.0,1526.0 C930.0,1526.0 890.0,1547.0 920.0,1547.0" stroke="#4a2d46" stroke-width="6.5" fill="none"/><path d="M900.0,1526.0 C930.0,1526.0 890.0,1547.0 920.0,1547.0" stroke="#fff" stroke-width="2.2" fill="none"/><path d="M900.0,1526.0 C975.1,1526.0 991.9,1511.8 1067.0,1511.8" stroke="#4a2d46" stroke-width="6.5" fill="none"/><path d="M900.0,1526.0 C975.1,1526.0 991.9,1511.8 1067.0,1511.8" stroke="#fff" stroke-width="2.2" fill="none"/><path d="M1036.0,1563.0 C1066.0,1563.0 1037.0,1575.2 1067.0,1575.2" stroke="#4a2d46" stroke-width="6.5" fill="none"/><path d="M1036.0,1563.0 C1066.0,1563.0 1037.0,1575.2 1067.0,1575.2" stroke="#fff" stroke-width="2.2" fill="none"/><path d="M940.0,1598.0 C960.0,1598.0 975.0,1633.5 995.0,1633.5" stroke="#4a2d46" stroke-width="3.9" fill="none"/><path d="M454.0,1632.0 C544.9,1632.0 565.1,1633.0 656.0,1633.0" stroke="#4a2d46" stroke-width="3.9" fill="none"/><path d="M616,1437 C900,1437 1300,1445 1700,1465 C2000,1480 2200,1497 2379,1499" stroke="#4a4a4a" stroke-width="6.5" fill="none"/><path d="M616,1437 C900,1437 1300,1445 1700,1465 C2000,1480 2200,1497 2379,1499" stroke="#fff" stroke-width="2.2" fill="none"/><path d="M616,1437 C900,1440 1300,1452 1700,1472 C2000,1486 2200,1503 2379,1505" stroke="#4a4a4a" stroke-width="6.5" fill="none"/><path d="M616,1437 C900,1440 1300,1452 1700,1472 C2000,1486 2200,1503 2379,1505" stroke="#fff" stroke-width="2.2" fill="none"/><path d="M900,1526 C980,1505 1150,1497 1600,1498 C2000,1499 2400,1512 2744,1515 L3263,1515" stroke="#4a4a4a" stroke-width="3.9" fill="none"/><path d="M997,1633 C1100,1642 1500,1655 1866,1661" stroke="#4a4a4a" stroke-width="3.9" fill="none"/><path d="M1184.0,1543.5 C1784.0,1543.5 1780.0,1106.0 2380.0,1106.0" stroke="#4a4a4a" stroke-width="6.5" fill="none"/><path d="M1184.0,1543.5 C1784.0,1543.5 1780.0,1106.0 2380.0,1106.0" stroke="#fff" stroke-width="2.2" fill="none"/><path d="M1183,1543 C1550,1540 1650,1275 2000,1258 L2100,1252" stroke="#4a4a4a" stroke-width="6.5" fill="none"/><path d="M1183,1543 C1550,1540 1650,1275 2000,1258 L2100,1252" stroke="#fff" stroke-width="2.2" fill="none"/><path d="M1184.0,1543.5 C1684.0,1543.5 1568.0,1360.0 2068.0,1360.0" stroke="#4a4a4a" stroke-width="6.5" fill="none"/><path d="M1184.0,1543.5 C1684.0,1543.5 1568.0,1360.0 2068.0,1360.0" stroke="#fff" stroke-width="2.2" fill="none"/><path d="M1183,1544 C1746,1544 1840,2321 2403,2321" stroke="#4a4a4a" stroke-width="6.5" fill="none"/><path d="M1183,1544 C1746,1544 1840,2321 2403,2321" stroke="#fff" stroke-width="2.2" fill="none"/><path d="M1812.0,1523.5 C1962.0,1523.5 1918.0,1392.0 2068.0,1392.0" stroke="#4a4a4a" stroke-width="3.9" fill="none"/><path d="M1812.0,1523.5 C1872.0,1523.5 1806.0,1631.0 1866.0,1631.0" stroke="#4a4a4a" stroke-width="3.9" fill="none"/><path d="M1812.0,1523.5 C2162.0,1523.5 2055.0,1771.2 2405.0,1771.2" stroke="#222" stroke-width="3.9" fill="none"/><path d="M1812.0,1523.5 C2142.0,1523.5 2075.0,1863.0 2405.0,1863.0" stroke="#4a4a4a" stroke-width="3.9" fill="none"/><path d="M1812.0,1523.5 C2112.0,1523.5 1914.0,1663.0 2214.0,1663.0" stroke="#4a4a4a" stroke-width="3.9" fill="none"/><path d="M2187.0,1245.5 C2207.0,1245.5 2194.0,1247.0 2214.0,1247.0" stroke="#4a4a4a" stroke-width="6.5" fill="none"/><path d="M2187.0,1245.5 C2207.0,1245.5 2194.0,1247.0 2214.0,1247.0" stroke="#fff" stroke-width="2.2" fill="none"/><path d="M2187.0,1245.5 C2212.0,1245.5 2189.0,1279.0 2214.0,1279.0" stroke="#4a4a4a" stroke-width="6.5" fill="none"/><path d="M2187.0,1245.5 C2212.0,1245.5 2189.0,1279.0 2214.0,1279.0" stroke="#fff" stroke-width="2.2" fill="none"/><path d="M2330.0,1263.0 C2400.0,1263.0 2310.0,1138.0 2380.0,1138.0" stroke="#4a4a4a" stroke-width="6.5" fill="none"/><path d="M2330.0,1263.0 C2400.0,1263.0 2310.0,1138.0 2380.0,1138.0" stroke="#fff" stroke-width="2.2" fill="none"/><path d="M2524.0,1197.5 C2574.0,1197.5 2548.0,1167.0 2598.0,1167.0" stroke="#4a4a4a" stroke-width="6.5" fill="none"/><path d="M2524.0,1197.5 C2574.0,1197.5 2548.0,1167.0 2598.0,1167.0" stroke="#fff" stroke-width="2.2" fill="none"/><path d="M2598,1135 C2560,1135 2545,1150 2570,1158 C2585,1163 2590,1167 2598,1167" stroke="#4a4a4a" stroke-width="6.5" fill="none"/><path d="M2598,1135 C2560,1135 2545,1150 2570,1158 C2585,1163 2590,1167 2598,1167" stroke="#fff" stroke-width="2.2" fill="none"/><path d="M2640,1186 C2700,1205 2780,1228 2860,1258 C3000,1305 3150,1350 3168,1370 C3180,1385 3160,1390 3138,1387" stroke="#4a4a4a" stroke-width="6.5" fill="none"/><path d="M2640,1186 C2700,1205 2780,1228 2860,1258 C3000,1305 3150,1350 3168,1370 C3180,1385 3160,1390 3138,1387" stroke="#fff" stroke-width="2.2" fill="none"/><path d="M3138.0,1387.0 C3218.0,1387.0 3183.0,1483.0 3263.0,1483.0" stroke="#4a4a4a" stroke-width="6.5" fill="none"/><path d="M3138.0,1387.0 C3218.0,1387.0 3183.0,1483.0 3263.0,1483.0" stroke="#fff" stroke-width="2.2" fill="none"/><path d="M3138,1387 C3200,1390 3215,1420 3170,1480 C3100,1570 3000,1640 3005,1685 C3008,1700 3012,1704 3016,1704" stroke="#4a4a4a" stroke-width="6.5" fill="none"/><path d="M3138,1387 C3200,1390 3215,1420 3170,1480 C3100,1570 3000,1640 3005,1685 C3008,1700 3012,1704 3016,1704" stroke="#fff" stroke-width="2.2" fill="none"/><path d="M2184.0,1360.0 C2204.0,1360.0 2195.0,1360.2 2215.0,1360.2" stroke="#4a4a4a" stroke-width="6.5" fill="none" stroke-dasharray="16 12" stroke-linecap="round"/><path d="M2184.0,1360.0 C2204.0,1360.0 2195.0,1360.2 2215.0,1360.2" stroke="#fff" stroke-width="2.2" fill="none" stroke-dasharray="16 12" stroke-linecap="round"/><path d="M2330.0,1360.2 C2580.0,1360.2 2491.0,1275.5 2741.0,1275.5" stroke="#4a4a4a" stroke-width="6.5" fill="none" stroke-dasharray="16 12" stroke-linecap="round"/><path d="M2330.0,1360.2 C2580.0,1360.2 2491.0,1275.5 2741.0,1275.5" stroke="#fff" stroke-width="2.2" fill="none" stroke-dasharray="16 12" stroke-linecap="round"/><path d="M2330.0,1392.8 C2580.0,1392.8 2491.0,1370.0 2741.0,1370.0" stroke="#4a4a4a" stroke-width="6.5" fill="none" stroke-dasharray="16 12" stroke-linecap="round"/><path d="M2330.0,1392.8 C2580.0,1392.8 2491.0,1370.0 2741.0,1370.0" stroke="#fff" stroke-width="2.2" fill="none" stroke-dasharray="16 12" stroke-linecap="round"/><path d="M2330,1390 C2345,1395 2335,1420 2345,1440 C2355,1460 2365,1465 2379,1465" stroke="#4a4a4a" stroke-width="6.5" fill="none" stroke-dasharray="16 12" stroke-linecap="round"/><path d="M2330,1390 C2345,1395 2335,1420 2345,1440 C2355,1460 2365,1465 2379,1465" stroke="#fff" stroke-width="2.2" fill="none" stroke-dasharray="16 12" stroke-linecap="round"/><path d="M2860.0,1275.5 C2960.0,1275.5 2926.0,1370.0 3026.0,1370.0" stroke="#4a4a4a" stroke-width="6.5" fill="none" stroke-dasharray="16 12" stroke-linecap="round"/><path d="M2860.0,1275.5 C2960.0,1275.5 2926.0,1370.0 3026.0,1370.0" stroke="#fff" stroke-width="2.2" fill="none" stroke-dasharray="16 12" stroke-linecap="round"/><path d="M2775,1326 C2790,1335 2815,1340 2835,1351" stroke="#4a4a4a" stroke-width="6.5" fill="none" stroke-dasharray="16 12" stroke-linecap="round"/><path d="M2775,1326 C2790,1335 2815,1340 2835,1351" stroke="#fff" stroke-width="2.2" fill="none" stroke-dasharray="16 12" stroke-linecap="round"/><path d="M2741,1403 C2720,1410 2735,1425 2760,1432 C2800,1450 2830,1460 2850,1470" stroke="#4a4a4a" stroke-width="6.5" fill="none" stroke-dasharray="16 12" stroke-linecap="round"/><path d="M2741,1403 C2720,1410 2735,1425 2760,1432 C2800,1450 2830,1460 2850,1470" stroke="#fff" stroke-width="2.2" fill="none" stroke-dasharray="16 12" stroke-linecap="round"/><path d="M2521.0,1475.0 C2641.0,1475.0 2624.0,1484.8 2744.0,1484.8" stroke="#4a4a4a" stroke-width="6.5" fill="none" stroke-dasharray="16 12" stroke-linecap="round"/><path d="M2521.0,1475.0 C2641.0,1475.0 2624.0,1484.8 2744.0,1484.8" stroke="#fff" stroke-width="2.2" fill="none" stroke-dasharray="16 12" stroke-linecap="round"/><path d="M2811,1579 C2822,1570 2795,1552 2762,1538 C2752,1532 2750,1522 2744,1518" stroke="#4a4a4a" stroke-width="3.9" fill="none"/><path d="M3390.0,1515.0 C3450.0,1515.0 3400.0,1583.8 3460.0,1583.8" stroke="#4a4a4a" stroke-width="6.5" fill="none"/><path d="M3390.0,1515.0 C3450.0,1515.0 3400.0,1583.8 3460.0,1583.8" stroke="#fff" stroke-width="2.2" fill="none"/><path d="M3390.0,1705.0 C3450.0,1705.0 3400.0,1615.5 3460.0,1615.5" stroke="#4a4a4a" stroke-width="6.5" fill="none" stroke-dasharray="16 12" stroke-linecap="round"/><path d="M3390.0,1705.0 C3450.0,1705.0 3400.0,1615.5 3460.0,1615.5" stroke="#fff" stroke-width="2.2" fill="none" stroke-dasharray="16 12" stroke-linecap="round"/><path d="M1982.0,1631.0 C2102.0,1631.0 2094.0,1599.0 2214.0,1599.0" stroke="#4a4a4a" stroke-width="6.5" fill="none"/><path d="M1982.0,1631.0 C2102.0,1631.0 2094.0,1599.0 2214.0,1599.0" stroke="#fff" stroke-width="2.2" fill="none"/><path d="M2330.0,1631.0 C2370.0,1631.0 2364.0,1598.0 2404.0,1598.0" stroke="#4a4a4a" stroke-width="6.5" fill="none" stroke-dasharray="16 12" stroke-linecap="round"/><path d="M2330.0,1631.0 C2370.0,1631.0 2364.0,1598.0 2404.0,1598.0" stroke="#fff" stroke-width="2.2" fill="none" stroke-dasharray="16 12" stroke-linecap="round"/><path d="M2330.0,1631.0 C2370.0,1631.0 2364.0,1630.0 2404.0,1630.0" stroke="#4a4a4a" stroke-width="6.5" fill="none" stroke-dasharray="16 12" stroke-linecap="round"/><path d="M2330.0,1631.0 C2370.0,1631.0 2364.0,1630.0 2404.0,1630.0" stroke="#fff" stroke-width="2.2" fill="none" stroke-dasharray="16 12" stroke-linecap="round"/><path d="M2332,1630 C2350,1640 2340,1660 2345,1680 C2355,1720 2370,1741 2403,1741" stroke="#4a4a4a" stroke-width="6.5" fill="none" stroke-dasharray="16 12" stroke-linecap="round"/><path d="M2332,1630 C2350,1640 2340,1660 2345,1680 C2355,1720 2370,1741 2403,1741" stroke="#fff" stroke-width="2.2" fill="none" stroke-dasharray="16 12" stroke-linecap="round"/><path d="M2330.0,1631.0 C2480.0,1631.0 2493.0,1673.0 2643.0,1673.0" stroke="#4a4a4a" stroke-width="6.5" fill="none" stroke-dasharray="16 12" stroke-linecap="round"/><path d="M2330.0,1631.0 C2480.0,1631.0 2493.0,1673.0 2643.0,1673.0" stroke="#fff" stroke-width="2.2" fill="none" stroke-dasharray="16 12" stroke-linecap="round"/><path d="M2521.0,1630.0 C2601.0,1630.0 2563.0,1705.0 2643.0,1705.0" stroke="#4a4a4a" stroke-width="6.5" fill="none" stroke-dasharray="16 12" stroke-linecap="round"/><path d="M2521.0,1630.0 C2601.0,1630.0 2563.0,1705.0 2643.0,1705.0" stroke="#fff" stroke-width="2.2" fill="none" stroke-dasharray="16 12" stroke-linecap="round"/><path d="M2523,1630 C2560,1640 2520,1690 2480,1730 C2430,1780 2380,1810 2390,1825 C2395,1832 2400,1833 2403,1833" stroke="#4a4a4a" stroke-width="6.5" fill="none" stroke-dasharray="16 12" stroke-linecap="round"/><path d="M2523,1630 C2560,1640 2520,1690 2480,1730 C2430,1780 2380,1810 2390,1825 C2395,1832 2400,1833 2403,1833" stroke="#fff" stroke-width="2.2" fill="none" stroke-dasharray="16 12" stroke-linecap="round"/><path d="M2521.0,1755.5 C2601.0,1755.5 2563.0,1769.0 2643.0,1769.0" stroke="#4a4a4a" stroke-width="6.5" fill="none" stroke-dasharray="16 12" stroke-linecap="round"/><path d="M2521.0,1755.5 C2601.0,1755.5 2563.0,1769.0 2643.0,1769.0" stroke="#fff" stroke-width="2.2" fill="none" stroke-dasharray="16 12" stroke-linecap="round"/><path d="M2521.0,1847.0 C2611.0,1847.0 2553.0,1737.0 2643.0,1737.0" stroke="#4a4a4a" stroke-width="6.5" fill="none" stroke-dasharray="16 12" stroke-linecap="round"/><path d="M2521.0,1847.0 C2611.0,1847.0 2553.0,1737.0 2643.0,1737.0" stroke="#fff" stroke-width="2.2" fill="none" stroke-dasharray="16 12" stroke-linecap="round"/><path d="M2757.0,1721.0 C2877.0,1721.0 2894.0,1737.5 3014.0,1737.5" stroke="#4a4a4a" stroke-width="6.5" fill="none" stroke-dasharray="16 12" stroke-linecap="round"/><path d="M2757.0,1721.0 C2877.0,1721.0 2894.0,1737.5 3014.0,1737.5" stroke="#fff" stroke-width="2.2" fill="none" stroke-dasharray="16 12" stroke-linecap="round"/><path d="M2757.0,1721.0 C2957.0,1721.0 3063.0,1673.0 3263.0,1673.0" stroke="#4a4a4a" stroke-width="6.5" fill="none" stroke-dasharray="16 12" stroke-linecap="round"/><path d="M2757.0,1721.0 C2957.0,1721.0 3063.0,1673.0 3263.0,1673.0" stroke="#fff" stroke-width="2.2" fill="none" stroke-dasharray="16 12" stroke-linecap="round"/><path d="M2757,1721 C2800,1730 2780,1800 2760,1850 C2745,1890 2750,1910 2773,1910" stroke="#4a4a4a" stroke-width="6.5" fill="none" stroke-dasharray="16 12" stroke-linecap="round"/><path d="M2757,1721 C2800,1730 2780,1800 2760,1850 C2745,1890 2750,1910 2773,1910" stroke="#fff" stroke-width="2.2" fill="none" stroke-dasharray="16 12" stroke-linecap="round"/><path d="M3606.0,1615.5 C3806.0,1615.5 3739.0,1468.2 3939.0,1468.2" stroke="#3a3450" stroke-width="3.9" fill="none"/><path d="M3951.0,1620.0 C3996.0,1620.0 3894.0,1500.5 3939.0,1500.5" stroke="#3a3450" stroke-width="3.9" fill="none"/><path d="M4062.0,1500.5 C4212.0,1500.5 4177.0,1468.2 4327.0,1468.2" stroke="#3a3450" stroke-width="3.9" fill="none"/><path d="M4316.0,1619.0 C4361.0,1619.0 4282.0,1500.5 4327.0,1500.5" stroke="#3a3450" stroke-width="3.9" fill="none"/><path d="M4449.0,1500.5 C4569.0,1500.5 4508.0,1468.2 4628.0,1468.2" stroke="#3a3450" stroke-width="3.9" fill="none"/><path d="M4596.0,1620.0 C4641.0,1620.0 4583.0,1500.5 4628.0,1500.5" stroke="#3a3450" stroke-width="3.9" fill="none"/><path d="M3606.0,1615.5 C3626.0,1615.5 3646.0,1620.0 3666.0,1620.0" stroke="#4a4a4a" stroke-width="3.9" fill="none"/><path d="M3790,1636 C3870,1680 3970,1705 4185,1713" stroke="#2c3c3c" stroke-width="3.9" fill="none"/><path d="M4047.0,1716.5 C4107.0,1716.5 4125.0,1810.4 4185.0,1810.4" stroke="#2e4e4c" stroke-width="3.9" fill="none"/><path d="M4047.0,1756.5 C4107.0,1756.5 4125.0,1778.3 4185.0,1778.3" stroke="#2e4e4c" stroke-width="3.9" fill="none"/><path d="M4047.0,1796.5 C4107.0,1796.5 4125.0,1842.5 4185.0,1842.5" stroke="#2e4e4c" stroke-width="3.9" fill="none"/><path d="M4015.0,1851.5 C4035.0,1851.5 4023.0,1851.0 4043.0,1851.0" stroke="#2e4e4c" stroke-width="3.9" fill="none"/><path d="M4155.0,1851.0 C4175.0,1851.0 4165.0,1874.6 4185.0,1874.6" stroke="#2e4e4c" stroke-width="3.9" fill="none"/><path d="M4015.0,1895.5 C4075.0,1895.5 4125.0,1906.7 4185.0,1906.7" stroke="#2e4e4c" stroke-width="3.9" fill="none"/><path d="M4323.0,1914.8 C4403.0,1914.8 4360.0,1906.2 4440.0,1906.2" stroke="#2e4e4c" stroke-width="3.9" fill="none"/><path d="M4562.0,1938.5 C4682.0,1938.5 4655.0,1906.2 4775.0,1906.2" stroke="#2e4e4c" stroke-width="3.9" fill="none"/><path d="M4633,1802 C4660,1810 4600,1850 4500,1890 C4440,1910 4425,1935 4440,1938" stroke="#2e4e4c" stroke-width="3.9" fill="none"/><path d="M4906,1802 C4930,1810 4920,1830 4870,1860 C4800,1900 4760,1935 4775,1938" stroke="#2e4e4c" stroke-width="3.9" fill="none"/><path d="M2515,2332 C2965,2332 3210,2104 3658,2104" stroke="#4e4e4e" stroke-width="3.9" fill="none"/><path d="M3777.0,2120.5 C3807.0,2120.5 3805.0,2120.5 3835.0,2120.5" stroke="#4e3620" stroke-width="3.9" fill="none"/><path d="M3961.0,2104.8 C3976.0,2104.8 3976.0,2104.8 3991.0,2104.8" stroke="#4e3620" stroke-width="3.9" fill="none"/><path d="M4114.0,2120.5 C4154.0,2120.5 4135.0,2104.8 4175.0,2104.8" stroke="#4e3620" stroke-width="6.5" fill="none"/><path d="M4114.0,2120.5 C4154.0,2120.5 4135.0,2104.8 4175.0,2104.8" stroke="#fff" stroke-width="2.2" fill="none"/><path d="M4188.0,2065.5 C4218.0,2065.5 4145.0,2136.5 4175.0,2136.5" stroke="#4e3620" stroke-width="3.9" fill="none"/><path d="M4298.0,2136.5 C4318.0,2136.5 4302.0,2104.8 4322.0,2104.8" stroke="#4e3620" stroke-width="3.9" fill="none"/><path d="M4203.0,2228.0 C4243.0,2228.0 4256.0,2221.0 4296.0,2221.0" stroke="#4e3620" stroke-width="3.9" fill="none"/><path d="M4405,2221 C4420,2210 4400,2195 4380,2185 C4350,2170 4320,2160 4322,2136" stroke="#4e3620" stroke-width="3.9" fill="none"/><path d="M4445.0,2136.5 C4470.0,2136.5 4466.0,2104.8 4491.0,2104.8" stroke="#4e3620" stroke-width="3.9" fill="none"/><path d="M4537.0,2064.5 C4567.0,2064.5 4461.0,2136.5 4491.0,2136.5" stroke="#4e3620" stroke-width="3.9" fill="none"/><path d="M2518,2332 C3000,2340 3500,2385 3997,2398" stroke="#4e4e4e" stroke-width="3.9" fill="none"/><path d="M3967.0,2425.5 C3987.0,2425.5 3977.0,2433.0 3997.0,2433.0" stroke="#3a4a1c" stroke-width="3.9" fill="none"/><path d="M3971.0,2478.0 C3991.0,2478.0 3977.0,2465.0 3997.0,2465.0" stroke="#3a4a1c" stroke-width="3.9" fill="none"/><path d="M4172.0,2417.0 C4192.0,2417.0 4185.0,2420.0 4205.0,2420.0" stroke="#3a4a1c" stroke-width="6.5" fill="none"/><path d="M4172.0,2417.0 C4192.0,2417.0 4185.0,2420.0 4205.0,2420.0" stroke="#fff" stroke-width="2.2" fill="none"/><path d="M4298.0,2420.0 C4318.0,2420.0 4303.0,2400.8 4323.0,2400.8" stroke="#3a4a1c" stroke-width="6.5" fill="none"/><path d="M4298.0,2420.0 C4318.0,2420.0 4303.0,2400.8 4323.0,2400.8" stroke="#fff" stroke-width="2.2" fill="none"/><path d="M4446.0,2432.5 C4506.0,2432.5 4489.0,2400.9 4549.0,2400.9" stroke="#3a4a1c" stroke-width="3.9" fill="none"/><path d="M4491.0,2523.0 C4531.0,2523.0 4509.0,2464.7 4549.0,2464.7" stroke="#3a4a1c" stroke-width="3.9" fill="none"/><path d="M4491.0,2523.0 C4531.0,2523.0 4509.0,2560.3 4549.0,2560.3" stroke="#3a4a1c" stroke-width="3.9" fill="none"/><path d="M4687,2575 C4740,2570 4730,2500 4710,2460 C4690,2420 4700,2398 4725,2398" stroke="#3a4a1c" stroke-width="3.9" fill="none"/><path d="M4637,2322 C4680,2330 4690,2400 4705,2420 C4715,2432 4720,2432 4725,2432" stroke="#3a4a1c" stroke-width="3.9" fill="none"/><path d="M4847.0,2432.5 C4887.0,2432.5 4879.0,2400.8 4919.0,2400.8" stroke="#3a4a1c" stroke-width="3.9" fill="none"/><path d="M4944,2325 C4980,2335 4960,2370 4940,2390 C4900,2420 4905,2432 4919,2432" stroke="#3a4a1c" stroke-width="3.9" fill="none"/></svg>
<div class="pt pl" style="left:154px;top:1487.5px;width:9px;height:14px"></div><div class="pt pr" style="left:241px;top:1487.5px;width:9px;height:14px"></div><div class="c" style="left:162px;top:1475px;width:80px;height:39px"><span class="lb" style="left:12px;top:10.2px;font-size:15px"></span><span class="lb" style="right:12px;top:10.2px;font-size:15px"></span><div class="ic" style="left:23.0px;top:4.5px"><svg width="34" height="30" viewBox="0 0 28 28"><path d="M7,2 H21 L27,14 L21,26 H7 L1,14 Z" fill="#111"/><path d="M10,10 L18,18 M18,10 L10,18" stroke="#fff" stroke-width="3.6"/></svg></div></div><div class="pt pl" style="left:351px;top:1434.0px;width:9px;height:14px"></div><div class="pt pl" style="left:351px;top:1466.0px;width:9px;height:14px"></div><div class="pt pl" style="left:351px;top:1498.0px;width:9px;height:14px"></div><div class="pt pr" style="left:460px;top:1466.0px;width:9px;height:14px"></div><div class="c" style="left:359px;top:1422px;width:102px;height:102px"><span class="lb" style="left:12px;top:9.7px;font-size:15px">S</span><span class="lb" style="left:12px;top:41.7px;font-size:15px">D</span><span class="lb" style="left:12px;top:73.7px;font-size:15px">L</span><span class="lb" style="right:12px;top:41.7px;font-size:15px">L</span><div class="ic" style="left:37.0px;top:37.0px"><svg width="28" height="28" viewBox="0 0 28 28"><path d="M4,24 L20,8" stroke="#000" stroke-width="2.6"/><path d="M23,5 L13,8 L20,15 Z" fill="#000"/><circle cx="4.5" cy="23.5" r="2.6" fill="#fff" stroke="#000" stroke-width="1.4"/><path d="M10,25 H26 M14,25 L18,19" stroke="#777" stroke-width="1"/></svg></div></div><div class="pt pl" style="left:497px;top:1430.0px;width:9px;height:14px"></div><div class="pt pl" style="left:497px;top:1462.0px;width:9px;height:14px"></div><div class="pt pl" style="left:497px;top:1494.0px;width:9px;height:14px"></div><div class="pt pr" style="left:609px;top:1430.0px;width:9px;height:14px"></div><div class="pt pr" style="left:609px;top:1462.0px;width:9px;height:14px"></div><div class="pt pr" style="left:609px;top:1494.0px;width:9px;height:14px"></div><div class="c" style="left:505px;top:1418px;width:105px;height:102px"><span class="lb" style="left:12px;top:9.7px;font-size:15px">C</span><span class="lb" style="left:12px;top:41.7px;font-size:15px">N</span><span class="lb" style="left:12px;top:73.7px;font-size:15px">K</span><span class="lb" style="right:12px;top:9.7px;font-size:15px">P</span><span class="lb" style="right:12px;top:41.7px;font-size:15px">T</span><span class="lb" style="right:12px;top:73.7px;font-size:15px">t</span><div class="ic" style="left:38.5px;top:37.0px"><svg width="28" height="28" viewBox="0 0 28 28"><path d="M4,24 L10,21 L12,14 L18,11 L22,6" stroke="#b11" stroke-width="2" fill="none"/><g fill="#fff" stroke="#000" stroke-width="1.2"><circle cx="4" cy="24" r="2.4"/><circle cx="11" cy="20" r="2.4"/><circle cx="13" cy="13" r="2.4"/><circle cx="22" cy="6" r="2.4"/></g></svg></div></div><div class="pt pl" style="left:501px;top:1545.0px;width:9px;height:14px"></div><div class="pt pl" style="left:501px;top:1577.0px;width:9px;height:14px"></div><div class="pt pr" style="left:613px;top:1561.0px;width:9px;height:14px"></div><div class="c" style="left:509px;top:1533px;width:105px;height:70px"><span class="lb" style="left:12px;top:9.7px;font-size:15px">D</span><span class="lb" style="left:12px;top:41.7px;font-size:15px">N</span><span class="lb" style="right:12px;top:25.7px;font-size:15px">R</span><div class="ic" style="left:38.5px;top:21.0px"><svg width="28" height="28" viewBox="0 0 28 28"><text x="14" y="9" font-size="9" font-weight="bold" text-anchor="middle" font-family="Liberation Sans">0.0</text><rect x="2" y="11" width="24" height="6" fill="#000"/><g fill="#fff"><rect x="5" y="12.5" width="3" height="3"/><rect x="10" y="12.5" width="3" height="3"/><rect x="15" y="12.5" width="3" height="3"/><rect x="20" y="12.5" width="3" height="3"/></g><text x="14" y="26" font-size="9" font-weight="bold" text-anchor="middle" font-family="Liberation Sans">1.0</text></svg></div></div><div class="pt pl" style="left:918px;top:1540.0px;width:9px;height:14px"></div><div class="pt pl" style="left:918px;top:1572.0px;width:9px;height:14px"></div><div class="pt pr" style="left:1029px;top:1556.0px;width:9px;height:14px"></div><div class="c" style="left:926px;top:1528px;width:104px;height:70px"><span class="lb" style="left:12px;top:9.7px;font-size:15px">A</span><span class="lb" style="left:12px;top:41.7px;font-size:15px">B</span><span class="lb" style="right:12px;top:25.7px;font-size:15px">R</span><div class="ic" style="left:38.0px;top:21.0px"><svg width="28" height="28" viewBox="0 0 28 28"><rect x="1.5" y="1.5" width="25" height="25" rx="4" fill="#f2f2f2" stroke="#777" stroke-width="1.5"/><path d="M9,9 L19,19 M19,9 L9,19" stroke="#000" stroke-width="3.6"/></svg></div></div><div class="pt pl" style="left:1065px;top:1504.8333333333333px;width:9px;height:14px"></div><div class="pt pl" style="left:1065px;top:1536.5px;width:9px;height:14px"></div><div class="pt pl" style="left:1065px;top:1568.1666666666667px;width:9px;height:14px"></div><div class="pt pr" style="left:1177px;top:1536.5px;width:9px;height:14px"></div><div class="c" style="left:1073px;top:1493px;width:105px;height:101px"><span class="lb" style="left:12px;top:9.5px;font-size:15px">C</span><span class="lb" style="left:12px;top:41.2px;font-size:15px">N</span><span class="lb" style="left:12px;top:72.9px;font-size:15px">R</span><span class="lb" style="right:12px;top:41.2px;font-size:15px">C</span><div class="ic" style="left:38.5px;top:36.5px"><svg width="28" height="28" viewBox="0 0 28 28"><circle cx="12" cy="16" r="9" fill="none" stroke="#111" stroke-width="3.5"/><circle cx="12" cy="16" r="3" fill="#fff" stroke="#111" stroke-width="1.5"/><path d="M12,16 L24,5" stroke="#111" stroke-width="2.4"/><path d="M26,3 L18,5 L23,10 Z" fill="#111"/></svg></div></div><div class="pt pr" style="left:317px;top:1583.0px;width:9px;height:14px"></div><div class="sl sly" style="left:50px;top:1574px;width:268px;height:32px"><div class="sll" style="width:75px"><span style="font-size:16px">Length</span></div><div class="rul" style="left:89px;width:161px"></div><div class="ko" style="left:125px;top:10.0px"></div><span class="sv" style="left:141px;font-size:18px">2.0</span></div><div class="pt pr" style="left:446px;top:1625.0px;width:9px;height:14px"></div><div class="sl sly" style="left:46px;top:1616px;width:401px;height:32px"><div class="sll" style="width:77px"><span style="font-size:16px">v count</span></div><div class="rul" style="left:91px;width:292px"></div><div class="kd" style="left:104px;top:11.0px"></div><span class="sv" style="left:119px;font-size:18px">6</span></div><div class="pt pr" style="left:987px;top:1626.5px;width:9px;height:14px"></div><div class="sl slg" style="left:662px;top:1618px;width:326px;height:31px"><div class="sll" style="width:31px"><span style="font-size:16px">B</span></div><div class="rul" style="left:45px;width:263px"></div><div class="kd" style="left:122px;top:10.5px"></div><span class="sv" style="left:137px;font-size:18px">3</span></div><div class="pt pl" style="left:655px;top:1519.0px;width:9px;height:14px"></div><div class="pt pr" style="left:893px;top:1519.0px;width:9px;height:14px"></div><div class="c" style="left:663px;top:1447px;width:231px;height:159px;border-radius:9px;background:linear-gradient(180deg,#f0f0f4 0,#d8d8de 10px,#b8b8c2 14px,#9a9aa8 40%,#888898 100%)"></div><svg style="position:absolute;left:671px;top:1455px;overflow:visible" width="214" height="142"><rect x="0" y="0" width="214" height="142" fill="#dcdce2"/><rect x="0" y="0" width="214" height="30" fill="#e8e8ee"/><line x1="10.7" y1="0" x2="10.7" y2="142" stroke="#b4b4c0" stroke-width="1"/><line x1="21.4" y1="0" x2="21.4" y2="142" stroke="#b4b4c0" stroke-width="1"/><line x1="32.1" y1="0" x2="32.1" y2="142" stroke="#b4b4c0" stroke-width="1"/><line x1="42.8" y1="0" x2="42.8" y2="142" stroke="#b4b4c0" stroke-width="1"/><line x1="53.5" y1="0" x2="53.5" y2="142" stroke="#b4b4c0" stroke-width="1"/><line x1="64.2" y1="0" x2="64.2" y2="142" stroke="#b4b4c0" stroke-width="1"/><line x1="74.9" y1="0" x2="74.9" y2="142" stroke="#b4b4c0" stroke-width="1"/><line x1="85.6" y1="0" x2="85.6" y2="142" stroke="#b4b4c0" stroke-width="1"/><line x1="96.3" y1="0" x2="96.3" y2="142" stroke="#b4b4c0" stroke-width="1"/><line x1="107.0" y1="0" x2="107.0" y2="142" stroke="#b4b4c0" stroke-width="1"/><line x1="117.7" y1="0" x2="117.7" y2="142" stroke="#b4b4c0" stroke-width="1"/><line x1="128.4" y1="0" x2="128.4" y2="142" stroke="#b4b4c0" stroke-width="1"/><line x1="139.1" y1="0" x2="139.1" y2="142" stroke="#b4b4c0" stroke-width="1"/><line x1="149.8" y1="0" x2="149.8" y2="142" stroke="#b4b4c0" stroke-width="1"/><line x1="160.5" y1="0" x2="160.5" y2="142" stroke="#b4b4c0" stroke-width="1"/><line x1="171.2" y1="0" x2="171.2" y2="142" stroke="#b4b4c0" stroke-width="1"/><line x1="181.9" y1="0" x2="181.9" y2="142" stroke="#b4b4c0" stroke-width="1"/><line x1="192.6" y1="0" x2="192.6" y2="142" stroke="#b4b4c0" stroke-width="1"/><line x1="203.3" y1="0" x2="203.3" y2="142" stroke="#b4b4c0" stroke-width="1"/><line x1="0" y1="10.9" x2="214" y2="10.9" stroke="#b4b4c0" stroke-width="1"/><line x1="0" y1="21.8" x2="214" y2="21.8" stroke="#b4b4c0" stroke-width="1"/><line x1="0" y1="32.8" x2="214" y2="32.8" stroke="#b4b4c0" stroke-width="1"/><line x1="0" y1="43.7" x2="214" y2="43.7" stroke="#b4b4c0" stroke-width="1"/><line x1="0" y1="54.6" x2="214" y2="54.6" stroke="#b4b4c0" stroke-width="1"/><line x1="0" y1="65.5" x2="214" y2="65.5" stroke="#b4b4c0" stroke-width="1"/><line x1="0" y1="76.5" x2="214" y2="76.5" stroke="#b4b4c0" stroke-width="1"/><line x1="0" y1="87.4" x2="214" y2="87.4" stroke="#b4b4c0" stroke-width="1"/><line x1="0" y1="98.3" x2="214" y2="98.3" stroke="#b4b4c0" stroke-width="1"/><line x1="0" y1="109.2" x2="214" y2="109.2" stroke="#b4b4c0" stroke-width="1"/><line x1="0" y1="120.2" x2="214" y2="120.2" stroke="#b4b4c0" stroke-width="1"/><line x1="0" y1="131.1" x2="214" y2="131.1" stroke="#b4b4c0" stroke-width="1"/><line x1="36" y1="0" x2="36" y2="142" stroke="#a02020" stroke-width="1.6"/><line x1="71" y1="0" x2="71" y2="142" stroke="#a02020" stroke-width="1.6"/><line x1="108" y1="0" x2="108" y2="142" stroke="#a02020" stroke-width="1.6"/><line x1="143" y1="0" x2="143" y2="142" stroke="#a02020" stroke-width="1.6"/><line x1="179" y1="0" x2="179" y2="142" stroke="#a02020" stroke-width="1.6"/><rect x="0" y="0" width="214" height="142" fill="none" stroke="#000" stroke-width="3"/><path d="M1,64 L90,49 L140,43 L214,35" stroke="#000" stroke-width="3.2" fill="none"/><path d="M1,64 L90,49 L140,43 L214,35" stroke="#700" stroke-width="1.2" fill="none"/><circle cx="1" cy="64" r="5" fill="#fff" stroke="#000" stroke-width="2.6"/><circle cx="90" cy="49" r="5" fill="#fff" stroke="#000" stroke-width="2.6"/><circle cx="140" cy="43" r="5" fill="#fff" stroke="#000" stroke-width="2.6"/><circle cx="214" cy="35" r="5" fill="#fff" stroke="#000" stroke-width="2.6"/><rect x="1" y="1" width="36" height="22" fill="#fff" stroke="#000" stroke-width="1.5"/><text x="19" y="17" font-size="13" text-anchor="middle" font-family="Liberation Sans">0 : 1</text><rect x="177" y="119" width="36" height="22" fill="#fff" stroke="#000" stroke-width="1.5"/><text x="195" y="135" font-size="13" text-anchor="middle" font-family="Liberation Sans">0 : 1</text></svg><div class="pt pr" style="left:1804px;top:1516.5px;width:9px;height:14px"></div><div class="sl sly" style="left:1533px;top:1507px;width:272px;height:33px"><div class="sll" style="width:80px"><span style="font-size:16px">u count</span></div><div class="rul" style="left:94px;width:160px"></div><div class="kd" style="left:128px;top:11.5px"></div><span class="sv" style="left:143px;font-size:18px">25</span></div><div class="pt pl" style="left:2378px;top:1099.0px;width:9px;height:14px"></div><div class="pt pl" style="left:2378px;top:1131.0px;width:9px;height:14px"></div><div class="pt pr" style="left:2515px;top:1115.0px;width:9px;height:14px"></div><div class="c" style="left:2386px;top:1087px;width:130px;height:70px"><span class="lb" style="left:28px;top:9.7px;font-size:15px">C</span><span class="lb" style="left:28px;top:41.7px;font-size:15px">t</span><span class="lb" style="right:12px;top:25.7px;font-size:15px">C</span><div class="ic" style="left:59.0px;top:21.0px"><svg width="28" height="28" viewBox="0 0 28 28"><rect x="0" y="0" width="0" height="0"/><path d="M10,6 V22" stroke="#222" stroke-width="2"/><path d="M6,18 L10,24 L14,18" fill="none" stroke="#222" stroke-width="2"/><ellipse cx="19" cy="14" rx="5" ry="10" fill="none" stroke="#a11" stroke-width="2.4"/><circle cx="17" cy="5" r="2" fill="#fff" stroke="#000"/><circle cx="17" cy="22" r="2" fill="#fff" stroke="#000"/></svg></div></div><div style="position:absolute;left:2392px;top:1094px;width:22px;height:22px;box-sizing:border-box;border:1.5px solid #333;border-radius:3px;background:linear-gradient(#eee,#bbb)"><svg width="19" height="19"><path d="M3,15 C5,3 14,3 16,15" stroke="#222" stroke-width="2.4" fill="none"/></svg></div><div class="pt pl" style="left:2597px;top:1128.0px;width:9px;height:14px"></div><div class="pt pl" style="left:2597px;top:1160.0px;width:9px;height:14px"></div><svg style="position:absolute;left:2603px;top:1114px" width="81" height="74"><defs><linearGradient id="gsp" x1="0" y1="0" x2="0" y2="1"><stop offset="0" stop-color="#ececf0"/><stop offset=".17" stop-color="#bdbdc5"/><stop offset=".2" stop-color="#9898a6"/><stop offset="1" stop-color="#7a7a8a"/></linearGradient></defs><path d="M6,2 H73 L78,7 L74,13 L78,19 L74,25 L78,31 L74,37 L78,43 L74,49 L78,55 L74,61 L78,67 L73,72 H6 Q2,72 2,68 V6 Q2,2 6,2 Z" fill="url(#gsp)" stroke="#1e1e28" stroke-width="2.5"/><text x="12" y="27" font-size="15" font-family="Liberation Sans">P</text><text x="12" y="58" font-size="15" font-family="Liberation Sans">S</text><g transform="translate(35,22)"><svg width="28" height="28" viewBox="0 0 28 28"><text x="2" y="16" font-size="10" font-weight="bold" font-family="Liberation Sans" fill="#223">3</text><text x="16" y="10" font-size="10" font-weight="bold" font-family="Liberation Sans" fill="#223">4</text><text x="2" y="26" font-size="10" font-weight="bold" font-family="Liberation Sans" fill="#111">1</text><text x="16" y="21" font-size="10" font-weight="bold" font-family="Liberation Sans" fill="#111">2</text><path d="M9,12 L16,7 M9,14 L16,18 M9,22 L16,18" stroke="#223" stroke-width="1.2"/></svg></g></svg><div class="pt pr" style="left:2516px;top:1190.5px;width:9px;height:14px"></div><div class="sl slg" style="left:2261px;top:1181px;width:256px;height:33px"><div class="sll" style="width:51px"><span style="font-size:16px">Size</span></div><div class="rul" style="left:65px;width:173px"></div><div class="ko" style="left:71px;top:10.5px"></div><span class="sv" style="left:87px;font-size:18px">0.056</span></div><div class="pt pr" style="left:2179px;top:1238.5px;width:9px;height:14px"></div><div class="sl slg" style="left:1925px;top:1229px;width:255px;height:33px"><div class="sll" style="width:31px"><span style="font-size:16px">B</span></div><div class="rul" style="left:45px;width:192px"></div><div class="ko" style="left:140px;top:10.5px"></div><span class="sv" style="right:119px;font-size:18px">0.517</span></div><div class="pt pl" style="left:2212px;top:1240.0px;width:9px;height:14px"></div><div class="pt pl" style="left:2212px;top:1272.0px;width:9px;height:14px"></div><div class="pt pr" style="left:2323px;top:1256.0px;width:9px;height:14px"></div><div class="c" style="left:2220px;top:1228px;width:104px;height:70px"><span class="lb" style="left:12px;top:9.7px;font-size:15px">A</span><span class="lb" style="left:12px;top:41.7px;font-size:15px">B</span><span class="lb" style="right:12px;top:25.7px;font-size:15px">R</span><div class="ic" style="left:38.0px;top:21.0px"><svg width="28" height="28" viewBox="0 0 28 28"><rect x="1.5" y="1.5" width="25" height="25" rx="4" fill="#f2f2f2" stroke="#777" stroke-width="1.5"/><path d="M9,9 L19,19 M19,9 L9,19" stroke="#000" stroke-width="3.6"/></svg></div></div><div class="pt pl" style="left:2066px;top:1353.0px;width:9px;height:14px"></div><div class="pt pl" style="left:2066px;top:1385.0px;width:9px;height:14px"></div><div class="pt pl" style="left:2066px;top:1417.0px;width:9px;height:14px"></div><div class="pt pr" style="left:2177px;top:1353.0px;width:9px;height:14px"></div><div class="pt pr" style="left:2177px;top:1385.0px;width:9px;height:14px"></div><div class="pt pr" style="left:2177px;top:1417.0px;width:9px;height:14px"></div><div class="c" style="left:2074px;top:1341px;width:104px;height:102px"><span class="lb" style="left:12px;top:9.7px;font-size:15px">C</span><span class="lb" style="left:12px;top:41.7px;font-size:15px">N</span><span class="lb" style="left:12px;top:73.7px;font-size:15px">K</span><span class="lb" style="right:12px;top:9.7px;font-size:15px">P</span><span class="lb" style="right:12px;top:41.7px;font-size:15px">T</span><span class="lb" style="right:12px;top:73.7px;font-size:15px">t</span><div class="ic" style="left:38.0px;top:37.0px"><svg width="28" height="28" viewBox="0 0 28 28"><path d="M4,24 L10,21 L12,14 L18,11 L22,6" stroke="#b11" stroke-width="2" fill="none"/><g fill="#fff" stroke="#000" stroke-width="1.2"><circle cx="4" cy="24" r="2.4"/><circle cx="11" cy="20" r="2.4"/><circle cx="13" cy="13" r="2.4"/><circle cx="22" cy="6" r="2.4"/></g></svg></div></div><div class="pt pl" style="left:2213px;top:1353.25px;width:9px;height:14px"></div><div class="pt pl" style="left:2213px;top:1385.75px;width:9px;height:14px"></div><div class="pt pr" style="left:2323px;top:1353.25px;width:9px;height:14px"></div><div class="pt pr" style="left:2323px;top:1385.75px;width:9px;height:14px"></div><div class="c" style="left:2221px;top:1341px;width:103px;height:71px"><span class="lb" style="left:12px;top:9.9px;font-size:15px">L</span><span class="lb" style="left:12px;top:42.5px;font-size:15px">P</span><span class="lb" style="right:12px;top:9.9px;font-size:15px">A</span><span class="lb" style="right:12px;top:42.5px;font-size:15px">B</span><div class="ic" style="left:37.5px;top:21.5px"><svg width="28" height="28" viewBox="0 0 28 28"><path d="M6,16 C6,8 16,8 22,14" stroke="#000" stroke-width="4" fill="none"/><path d="M25,18 L19,10 L17,19 Z" fill="#000"/><circle cx="8" cy="5" r="3" fill="#fff" stroke="#000" stroke-width="1.5"/><path d="M14,9 L22,3" stroke="#c00" stroke-width="3"/><path d="M25,1 L18,2 L22,7 Z" fill="#c00"/></svg></div></div><div class="pt pl" style="left:2739px;top:1236.8333333333333px;width:9px;height:14px"></div><div class="pt pl" style="left:2739px;top:1268.5px;width:9px;height:14px"></div><div class="pt pl" style="left:2739px;top:1300.1666666666667px;width:9px;height:14px"></div><div class="pt pr" style="left:2853px;top:1268.5px;width:9px;height:14px"></div><div class="c" style="left:2747px;top:1225px;width:107px;height:101px"><span class="lb" style="left:12px;top:9.5px;font-size:15px">P</span><span class="lb" style="left:12px;top:41.2px;font-size:15px">0</span><span class="lb" style="left:12px;top:72.9px;font-size:15px">1</span><span class="lb" style="right:12px;top:41.2px;font-size:15px">W</span><div class="ic" style="left:39.5px;top:36.5px"><svg width="28" height="28" viewBox="0 0 28 28"><circle cx="14" cy="14" r="11" fill="#333"/><path d="M14,4 C22,6 22,16 14,16 C8,16 8,10 13,10 M24,14 C22,22 12,22 12,14 M4,14 C6,6 16,6 16,14" stroke="#777" stroke-width="1.6" fill="none"/><circle cx="14" cy="14" r="11" fill="none" stroke="#111" stroke-width="1.5"/></svg></div></div><div class="pt pl" style="left:2739px;top:1363.0px;width:9px;height:14px"></div><div class="pt pl" style="left:2739px;top:1395.0px;width:9px;height:14px"></div><div class="pt pr" style="left:2853px;top:1363.0px;width:9px;height:14px"></div><div class="pt pr" style="left:2853px;top:1395.0px;width:9px;height:14px"></div><div class="c" style="left:2747px;top:1351px;width:107px;height:70px"><span class="lb" style="left:12px;top:9.7px;font-size:15px">G</span><span class="lb" style="left:12px;top:41.7px;font-size:15px">T</span><span class="lb" style="right:12px;top:9.7px;font-size:15px">G</span><span class="lb" style="right:12px;top:41.7px;font-size:15px">X</span><div class="ic" style="left:39.5px;top:21.0px"><svg width="28" height="28" viewBox="0 0 28 28"><path d="M6,22 L20,8" stroke="#000" stroke-width="4.4"/><path d="M6,22 L20,8" stroke="#fb2" stroke-width="2.6"/><path d="M23,5 L13,8 L20,15 Z" fill="#fb2" stroke="#000" stroke-width="1.2"/><circle cx="5" cy="23" r="2.8" fill="#fff" stroke="#000" stroke-width="1.2"/><circle cx="25" cy="3" r="2.8" fill="#fff" stroke="#000" stroke-width="1.2"/></svg></div></div><div class="pt pl" style="left:3024px;top:1363.0px;width:9px;height:14px"></div><div class="pt pl" style="left:3024px;top:1395.0px;width:9px;height:14px"></div><div class="pt pr" style="left:3131px;top:1379.0px;width:9px;height:14px"></div><div class="c" style="left:3032px;top:1351px;width:100px;height:70px"><span class="lb" style="left:12px;top:9.7px;font-size:15px">T</span><span class="lb" style="left:12px;top:41.7px;font-size:15px">P</span><span class="lb" style="right:12px;top:25.7px;font-size:15px">T</span><div class="ic" style="left:30.0px;top:21.0px"><svg width="28" height="28" viewBox="0 0 28 28"><path d="M6,8 V20 C6,24 22,24 22,20 V8 Z" fill="#c80" stroke="#530" stroke-width="1.4"/><ellipse cx="14" cy="8" rx="8" ry="3.5" fill="#fc6" stroke="#530" stroke-width="1.4"/><path d="M2,24 L8,18 M26,24 L20,18 M14,26 V22" stroke="#282" stroke-width="2.4"/></svg></div></div><div class="pt pl" style="left:2377px;top:1460.0px;width:9px;height:14px"></div><div class="pt pl" style="left:2377px;top:1492.0px;width:9px;height:14px"></div><div class="pt pl" style="left:2377px;top:1524.0px;width:9px;height:14px"></div><div class="pt pr" style="left:2514px;top:1468.0px;width:9px;height:14px"></div><div class="pt pr" style="left:2514px;top:1516.0px;width:9px;height:14px"></div><div class="c" style="left:2385px;top:1448px;width:130px;height:102px"><span class="lb" style="left:30px;top:9.7px;font-size:15px">A</span><span class="lb" style="left:30px;top:41.7px;font-size:15px">B</span><span class="lb" style="left:30px;top:73.7px;font-size:15px">U</span><span class="lb" style="right:12px;top:17.7px;font-size:15px">V</span><span class="lb" style="right:12px;top:65.7px;font-size:15px">L</span><div class="ic" style="left:59.0px;top:37.0px"><svg width="28" height="28" viewBox="0 0 28 28"><path d="M5,24 L20,9" stroke="#000" stroke-width="2.8"/><path d="M23,6 L13,9 L20,16 Z" fill="#000"/><circle cx="5" cy="24" r="2.4" fill="#fff" stroke="#000" stroke-width="1.2"/><circle cx="24" cy="5" r="2.4" fill="#fff" stroke="#000" stroke-width="1.2"/></svg></div></div><div style="position:absolute;left:2389px;top:1488px;width:22px;height:22px;box-sizing:border-box;border:1.5px solid #333;border-radius:3px;background:linear-gradient(#eee,#bbb)"><svg width="19" height="19"><path d="M9.5,16 V5 M4,10 L9.5,4 L15,10" stroke="#333" stroke-width="2.6" fill="none"/></svg></div><div class="pt pl" style="left:2742px;top:1477.75px;width:9px;height:14px"></div><div class="pt pl" style="left:2742px;top:1509.25px;width:9px;height:14px"></div><div class="pt pr" style="left:2853px;top:1493.5px;width:9px;height:14px"></div><div class="c" style="left:2750px;top:1466px;width:104px;height:69px"><span class="lb" style="left:12px;top:9.4px;font-size:15px">A</span><span class="lb" style="left:12px;top:41.0px;font-size:15px">B</span><span class="lb" style="right:12px;top:25.2px;font-size:15px">R</span><div class="ic" style="left:38.0px;top:20.5px"><svg width="28" height="28" viewBox="0 0 28 28"><rect x="1.5" y="1.5" width="25" height="25" rx="4" fill="#f2f2f2" stroke="#777" stroke-width="1.5"/><path d="M9,9 L19,19 M19,9 L9,19" stroke="#000" stroke-width="3.6"/></svg></div></div><div class="pt pr" style="left:2803px;top:1572.0px;width:9px;height:14px"></div><div class="sl slg" style="left:2549px;top:1563px;width:255px;height:32px"><div class="sll" style="width:31px"><span style="font-size:16px">B</span></div><div class="rul" style="left:45px;width:192px"></div><div class="ko" style="left:79px;top:10.0px"></div><span class="sv" style="left:95px;font-size:18px">0.193</span></div><div class="pt pl" style="left:3261px;top:1476.0px;width:9px;height:14px"></div><div class="pt pl" style="left:3261px;top:1508.0px;width:9px;height:14px"></div><div class="pt pl" style="left:3261px;top:1540.0px;width:9px;height:14px"></div><div class="pt pr" style="left:3383px;top:1508.0px;width:9px;height:14px"></div><div class="c" style="left:3269px;top:1464px;width:115px;height:102px"><span class="lb" style="left:12px;top:9.7px;font-size:15px">D1</span><span class="lb" style="left:12px;top:41.7px;font-size:15px">D2</span><span class="lb" style="left:12px;top:73.7px;font-size:15px">D3</span><span class="lb" style="right:12px;top:41.7px;font-size:15px">R</span><div class="ic" style="left:43.5px;top:37.0px"><svg width="28" height="28" viewBox="0 0 28 28"><path d="M3,14 C8,10 10,22 16,20" stroke="#36c" stroke-width="2" fill="none"/><path d="M3,18 C9,14 11,24 17,22" stroke="#c3c" stroke-width="2" fill="none"/><path d="M4,22 C10,18 12,26 17,24" stroke="#3c3" stroke-width="2" fill="none"/><path d="M8,10 C12,12 14,24 15,26" stroke="#e33" stroke-width="2" fill="none"/><path d="M12,18 L24,6" stroke="#111" stroke-width="3"/><path d="M26,3 L17,6 L23,12 Z" fill="#111"/></svg></div></div><div class="pt pl" style="left:3458px;top:1576.8333333333333px;width:9px;height:14px"></div><div class="pt pl" style="left:3458px;top:1608.5px;width:9px;height:14px"></div><div class="pt pl" style="left:3458px;top:1640.1666666666667px;width:9px;height:14px"></div><div class="pt pr" style="left:3599px;top:1608.5px;width:9px;height:14px"></div><div class="c" style="left:3466px;top:1565px;width:134px;height:101px"><span class="lb" style="left:40px;top:9.5px;font-size:15px">V</span><span class="lb" style="left:40px;top:41.2px;font-size:15px">F</span><span class="lb" style="left:40px;top:72.9px;font-size:15px">C</span><span class="lb" style="right:12px;top:41.2px;font-size:15px">M</span><div class="ic" style="left:59.0px;top:36.5px"><svg width="32" height="28" viewBox="0 0 27 28"><rect x="2" y="6" width="11" height="16" fill="#f80" stroke="#000" stroke-width="1.4"/><rect x="14" y="6" width="11" height="16" fill="#fb0" stroke="#000" stroke-width="1.4"/><path d="M2,6 L13,22 M14,6 L25,22" stroke="#c00" stroke-width="1.5"/></svg></div></div><div style="position:absolute;left:3471px;top:1606px;width:22px;height:22px;box-sizing:border-box;border:1.5px solid #333;border-radius:3px;background:linear-gradient(#eee,#bbb)"><svg width="19" height="19"><path d="M9.5,3 V14 M4,9 L9.5,15 L15,9" stroke="#333" stroke-width="2.6" fill="none"/></svg></div><div class="pt pl" style="left:1864px;top:1592.0px;width:9px;height:14px"></div><div class="pt pl" style="left:1864px;top:1624.0px;width:9px;height:14px"></div><div class="pt pl" style="left:1864px;top:1656.0px;width:9px;height:14px"></div><div class="pt pr" style="left:1975px;top:1624.0px;width:9px;height:14px"></div><div class="c" style="left:1872px;top:1580px;width:104px;height:102px"><span class="lb" style="left:12px;top:9.7px;font-size:15px">S</span><span class="lb" style="left:12px;top:41.7px;font-size:15px">N</span><span class="lb" style="left:12px;top:73.7px;font-size:15px">C</span><span class="lb" style="right:12px;top:41.7px;font-size:15px">S</span><div class="ic" style="left:38.0px;top:37.0px"><svg width="28" height="28" viewBox="0 0 28 28"><rect x="3" y="12" width="10" height="12" fill="#fff" stroke="#000" stroke-width="1.5"/><rect x="9" y="7" width="10" height="12" fill="#fff" stroke="#000" stroke-width="1.5"/><rect x="15" y="2" width="10" height="12" fill="#ddd" stroke="#000" stroke-width="1.5"/><text x="8" y="22" font-size="9" font-family="Liberation Sans">0</text><text x="13" y="17" font-size="9" font-family="Liberation Sans">1</text></svg></div></div><div class="pt pl" style="left:2212px;top:1592.0px;width:9px;height:14px"></div><div class="pt pl" style="left:2212px;top:1624.0px;width:9px;height:14px"></div><div class="pt pl" style="left:2212px;top:1656.0px;width:9px;height:14px"></div><div class="pt pr" style="left:2323px;top:1624.0px;width:9px;height:14px"></div><div class="c" style="left:2220px;top:1580px;width:104px;height:102px"><span class="lb" style="left:12px;top:9.7px;font-size:15px">S</span><span class="lb" style="left:12px;top:41.7px;font-size:15px">N</span><span class="lb" style="left:12px;top:73.7px;font-size:15px">C</span><span class="lb" style="right:12px;top:41.7px;font-size:15px">S</span><div class="ic" style="left:38.0px;top:37.0px"><svg width="28" height="28" viewBox="0 0 28 28"><rect x="3" y="12" width="10" height="12" fill="#fff" stroke="#000" stroke-width="1.5"/><rect x="9" y="7" width="10" height="12" fill="#fff" stroke="#000" stroke-width="1.5"/><rect x="15" y="2" width="10" height="12" fill="#ddd" stroke="#000" stroke-width="1.5"/><text x="8" y="22" font-size="9" font-family="Liberation Sans">0</text><text x="13" y="17" font-size="9" font-family="Liberation Sans">1</text></svg></div></div><div class="pt pl" style="left:2402px;top:1591.0px;width:9px;height:14px"></div><div class="pt pl" style="left:2402px;top:1623.0px;width:9px;height:14px"></div><div class="pt pl" style="left:2402px;top:1655.0px;width:9px;height:14px"></div><div class="pt pr" style="left:2514px;top:1623.0px;width:9px;height:14px"></div><div class="c" style="left:2410px;top:1579px;width:105px;height:102px"><span class="lb" style="left:12px;top:9.7px;font-size:15px">L</span><span class="lb" style="left:12px;top:41.7px;font-size:15px">S</span><span class="lb" style="left:12px;top:73.7px;font-size:15px">W</span><span class="lb" style="right:12px;top:41.7px;font-size:15px">L</span><div class="ic" style="left:38.5px;top:37.0px"><svg width="28" height="28" viewBox="0 0 28 28"><path d="M4,7 H20" stroke="#000" stroke-width="3"/><path d="M24,7 L17,2 L17,12 Z" fill="#000"/><rect x="2" y="15" width="24" height="9" fill="#5c3" stroke="#263" stroke-width="1"/><path d="M2,19.5 H26 M8,15 V24 M14,15 V24 M20,15 V24" stroke="#bfb" stroke-width="1"/></svg></div></div><div class="pt pl" style="left:2403px;top:1732.75px;width:9px;height:14px"></div><div class="pt pl" style="left:2403px;top:1764.25px;width:9px;height:14px"></div><div class="pt pr" style="left:2514px;top:1748.5px;width:9px;height:14px"></div><div class="c" style="left:2411px;top:1721px;width:104px;height:69px"><span class="lb" style="left:12px;top:9.4px;font-size:15px">A</span><span class="lb" style="left:12px;top:41.0px;font-size:15px">B</span><span class="lb" style="right:12px;top:25.2px;font-size:15px">R</span><div class="ic" style="left:38.0px;top:20.5px"><svg width="28" height="28" viewBox="0 0 28 28"><rect x="1.5" y="1.5" width="25" height="25" rx="4" fill="#f2f2f2" stroke="#777" stroke-width="1.5"/><path d="M14,7.5 V20.5 M7.5,14 H20.5" stroke="#000" stroke-width="3.6"/></svg></div></div><div class="pt pl" style="left:2403px;top:1824.0px;width:9px;height:14px"></div><div class="pt pl" style="left:2403px;top:1856.0px;width:9px;height:14px"></div><div class="pt pr" style="left:2514px;top:1840.0px;width:9px;height:14px"></div><div class="c" style="left:2411px;top:1812px;width:104px;height:70px"><span class="lb" style="left:12px;top:9.7px;font-size:15px">A</span><span class="lb" style="left:12px;top:41.7px;font-size:15px">B</span><span class="lb" style="right:12px;top:25.7px;font-size:15px">R</span><div class="ic" style="left:38.0px;top:21.0px"><svg width="28" height="28" viewBox="0 0 28 28"><rect x="1.5" y="1.5" width="25" height="25" rx="4" fill="#f2f2f2" stroke="#777" stroke-width="1.5"/><path d="M14,7.5 V20.5 M7.5,14 H20.5" stroke="#000" stroke-width="3.6"/></svg></div></div><div class="pt pl" style="left:2641px;top:1666.0px;width:9px;height:14px"></div><div class="pt pl" style="left:2641px;top:1698.0px;width:9px;height:14px"></div><div class="pt pl" style="left:2641px;top:1730.0px;width:9px;height:14px"></div><div class="pt pl" style="left:2641px;top:1762.0px;width:9px;height:14px"></div><div class="pt pr" style="left:2750px;top:1714.0px;width:9px;height:14px"></div><div class="c" style="left:2649px;top:1654px;width:102px;height:134px"><span class="lb" style="left:12px;top:9.7px;font-size:15px">A</span><span class="lb" style="left:12px;top:41.7px;font-size:15px">B</span><span class="lb" style="left:12px;top:73.7px;font-size:15px">C</span><span class="lb" style="left:12px;top:105.7px;font-size:15px">D</span><span class="lb" style="right:12px;top:57.7px;font-size:15px">F</span><div class="ic" style="left:37.0px;top:53.0px"><svg width="28" height="28" viewBox="0 0 28 28"><path d="M4,16 L8,24 L24,20 L22,12 Z" fill="#f60" stroke="#900" stroke-width="1.2"/><path d="M6,14 V4 M14,14 V2 M22,12 V4" stroke="#000" stroke-width="1.6"/><path d="M3,6 L6,2 L9,6 M11,4 L14,0 L17,4 M19,6 L22,2 L25,6" fill="none" stroke="#000" stroke-width="1.4"/></svg></div></div><div class="pt pl" style="left:3012px;top:1698.8333333333333px;width:9px;height:14px"></div><div class="pt pl" style="left:3012px;top:1730.5px;width:9px;height:14px"></div><div class="pt pl" style="left:3012px;top:1762.1666666666667px;width:9px;height:14px"></div><div class="pt pr" style="left:3153px;top:1730.5px;width:9px;height:14px"></div><div class="c" style="left:3020px;top:1687px;width:134px;height:101px"><span class="lb" style="left:40px;top:9.5px;font-size:15px">V</span><span class="lb" style="left:40px;top:41.2px;font-size:15px">F</span><span class="lb" style="left:40px;top:72.9px;font-size:15px">C</span><span class="lb" style="right:12px;top:41.2px;font-size:15px">M</span><div class="ic" style="left:59.0px;top:36.5px"><svg width="32" height="28" viewBox="0 0 27 28"><rect x="2" y="6" width="11" height="16" fill="#f80" stroke="#000" stroke-width="1.4"/><rect x="14" y="6" width="11" height="16" fill="#fb0" stroke="#000" stroke-width="1.4"/><path d="M2,6 L13,22 M14,6 L25,22" stroke="#c00" stroke-width="1.5"/></svg></div></div><div style="position:absolute;left:3025px;top:1727px;width:22px;height:22px;box-sizing:border-box;border:1.5px solid #333;border-radius:3px;background:linear-gradient(#eee,#bbb)"><svg width="19" height="19"><path d="M9.5,3 V14 M4,9 L9.5,15 L15,9" stroke="#333" stroke-width="2.6" fill="none"/></svg></div><div class="pt pl" style="left:3261px;top:1666.0px;width:9px;height:14px"></div><div class="pt pl" style="left:3261px;top:1698.0px;width:9px;height:14px"></div><div class="pt pl" style="left:3261px;top:1730.0px;width:9px;height:14px"></div><div class="pt pr" style="left:3383px;top:1698.0px;width:9px;height:14px"></div><div class="c" style="left:3269px;top:1654px;width:115px;height:102px"><span class="lb" style="left:12px;top:9.7px;font-size:15px">D1</span><span class="lb" style="left:12px;top:41.7px;font-size:15px">D2</span><span class="lb" style="left:12px;top:73.7px;font-size:15px">D3</span><span class="lb" style="right:12px;top:41.7px;font-size:15px">R</span><div class="ic" style="left:43.5px;top:37.0px"><svg width="28" height="28" viewBox="0 0 28 28"><path d="M3,14 C8,10 10,22 16,20" stroke="#36c" stroke-width="2" fill="none"/><path d="M3,18 C9,14 11,24 17,22" stroke="#c3c" stroke-width="2" fill="none"/><path d="M4,22 C10,18 12,26 17,24" stroke="#3c3" stroke-width="2" fill="none"/><path d="M8,10 C12,12 14,24 15,26" stroke="#e33" stroke-width="2" fill="none"/><path d="M12,18 L24,6" stroke="#111" stroke-width="3"/><path d="M26,3 L17,6 L23,12 Z" fill="#111"/></svg></div></div><div class="pt pl" style="left:2400px;top:2309.25px;width:9px;height:14px"></div><div class="pt pl" style="left:2400px;top:2341.75px;width:9px;height:14px"></div><div class="pt pr" style="left:2510px;top:2325.5px;width:9px;height:14px"></div><div class="c" style="left:2408px;top:2297px;width:103px;height:71px"><span class="lb" style="left:12px;top:9.9px;font-size:15px">C</span><span class="lb" style="left:12px;top:42.5px;font-size:15px">O</span><span class="lb" style="right:12px;top:26.2px;font-size:15px">L</span><div class="ic" style="left:37.5px;top:21.5px"><svg width="28" height="28" viewBox="0 0 28 28"><g stroke="#000" stroke-width="4.5" fill="none"><path d="M6,2 C2,8 10,12 6,18 C3,22 6,26 6,27"/><path d="M14,2 C10,8 18,12 14,18 C11,22 14,26 14,27"/><path d="M22,2 C18,8 26,12 22,18 C19,22 22,26 22,27"/></g><path d="M7,6 C5,10 11,12 8,17 L13,17 C16,12 10,10 12,6 Z" fill="#f90"/><path d="M15,6 C13,10 19,12 16,17 L21,17 C24,12 18,10 20,6 Z" fill="#f90"/></svg></div></div><div class="pt pl" style="left:2771px;top:1903.0px;width:9px;height:14px"></div><div class="pt pr" style="left:3033px;top:1903.0px;width:9px;height:14px"></div><div style="position:absolute;left:2779px;top:1833px;width:255px;height:158px;box-sizing:border-box;border:2px solid #222;border-radius:4px;background:#f6f03c;overflow:hidden;font-family:'Liberation Mono',monospace;font-size:13.5px;color:#333"><div style="position:absolute;left:0;top:0;right:0;height:28px;background:#cfc93a;border-bottom:1px solid #aaa030"></div><div style="position:absolute;left:31px;top:0;bottom:0;width:1px;background:#bdb640"></div><div style="position:absolute;right:22px;top:6px;">{0;0;0;0}</div><div style="position:absolute;right:3px;top:3px;width:8px;height:20px;border-radius:3px;background:#555"></div><div style="position:absolute;left:0;right:0;top:28.0px;height:25.4px;background:#f6f03c"><span style="position:absolute;left:15px;top:6px">0</span><span style="position:absolute;left:35px;top:6px">Q{0;1;26;25}</span></div><div style="position:absolute;left:0;right:0;top:53.4px;height:25.4px;background:#ece640"><span style="position:absolute;left:15px;top:6px">1</span><span style="position:absolute;left:35px;top:6px">Q{1;2;27;26}</span></div><div style="position:absolute;left:0;right:0;top:78.8px;height:25.4px;background:#f6f03c"><span style="position:absolute;left:15px;top:6px">2</span><span style="position:absolute;left:35px;top:6px">Q{2;3;28;27}</span></div><div style="position:absolute;left:0;right:0;top:104.2px;height:25.4px;background:#ece640"><span style="position:absolute;left:15px;top:6px">3</span><span style="position:absolute;left:35px;top:6px">Q{3;4;29;28}</span></div><div style="position:absolute;left:0;right:0;top:129.6px;height:25.4px;background:#f6f03c"><span style="position:absolute;left:15px;top:6px">4</span><span style="position:absolute;left:35px;top:6px">Q{4;5;30;29}</span></div></div><div class="pt pl" style="left:3937px;top:1461.1666666666667px;width:9px;height:14px"></div><div class="pt pl" style="left:3937px;top:1493.5px;width:9px;height:14px"></div><div class="pt pl" style="left:3937px;top:1525.8333333333333px;width:9px;height:14px"></div><div class="pt pr" style="left:4055px;top:1493.5px;width:9px;height:14px"></div><div class="c" style="left:3945px;top:1449px;width:111px;height:103px"><span class="lb" style="left:12px;top:9.9px;font-size:15px">M</span><span class="lb" style="left:12px;top:42.2px;font-size:15px">D</span><span class="lb" style="left:12px;top:74.5px;font-size:15px">T</span><span class="lb" style="right:12px;top:42.2px;font-size:15px">O</span><div class="ic" style="left:41.5px;top:37.5px"><svg width="28" height="28" viewBox="0 0 28 28"><path d="M3,4 L26,8 L20,26 L6,24 Z" fill="#1fbf2a" stroke="#082" stroke-width="2.2"/><path d="M9,11 L19,12 L16,20 L10,19 Z" fill="#7a7a8a" stroke="#000" stroke-width="1.5"/><path d="M3,4 L9,11" stroke="#dfe" stroke-width="2"/></svg></div></div><div class="pt pl" style="left:4325px;top:1461.1666666666667px;width:9px;height:14px"></div><div class="pt pl" style="left:4325px;top:1493.5px;width:9px;height:14px"></div><div class="pt pl" style="left:4325px;top:1525.8333333333333px;width:9px;height:14px"></div><div class="pt pr" style="left:4442px;top:1493.5px;width:9px;height:14px"></div><div class="c" style="left:4333px;top:1449px;width:110px;height:103px"><span class="lb" style="left:12px;top:9.9px;font-size:15px">M</span><span class="lb" style="left:12px;top:42.2px;font-size:15px">D</span><span class="lb" style="left:12px;top:74.5px;font-size:15px">T</span><span class="lb" style="right:12px;top:42.2px;font-size:15px">O</span><div class="ic" style="left:41.0px;top:37.5px"><svg width="28" height="28" viewBox="0 0 28 28"><path d="M8,6 L17,3 L22,6 L22,22 L13,26 L8,22 Z" fill="#2a5a4a" stroke="#000" stroke-width="1.6"/><path d="M8,6 L13,9 L13,26" stroke="#9cc" stroke-width="1.2" fill="none"/><path d="M16,10 H19 M16,10 V15" stroke="#dfe" stroke-width="1.4"/></svg></div></div><div class="pt pl" style="left:4626px;top:1461.1666666666667px;width:9px;height:14px"></div><div class="pt pl" style="left:4626px;top:1493.5px;width:9px;height:14px"></div><div class="pt pl" style="left:4626px;top:1525.8333333333333px;width:9px;height:14px"></div><div class="pt pr" style="left:4743px;top:1493.5px;width:9px;height:14px"></div><div class="c" style="left:4634px;top:1449px;width:110px;height:103px"><span class="lb" style="left:12px;top:9.9px;font-size:15px">M</span><span class="lb" style="left:12px;top:42.2px;font-size:15px">L</span><span class="lb" style="left:12px;top:74.5px;font-size:15px">S</span><span class="lb" style="right:12px;top:42.2px;font-size:15px">O</span><div class="ic" style="left:41.0px;top:37.5px"><svg width="28" height="28" viewBox="0 0 28 28"><defs><radialGradient id="rg" cx="40%" cy="35%" r="65%"><stop offset="0" stop-color="#ff9a9a"/><stop offset=".35" stop-color="#e0101a"/><stop offset="1" stop-color="#7a0008"/></radialGradient></defs><path d="M14,3 C22,3 27,12 26,20 C25,26 18,27 14,26 C8,27 2,25 2,19 C2,11 7,3 14,3 Z" fill="url(#rg)" stroke="#400" stroke-width="1"/></svg></div></div><div class="pt pr" style="left:3943px;top:1613.0px;width:9px;height:14px"></div><div class="sl slg" style="left:3666px;top:1604px;width:278px;height:32px"><div class="sll" style="width:85px"><span style="font-size:16px">Distance</span></div><div class="rul" style="left:99px;width:161px"></div><div class="kd" style="left:158px;top:11.0px"></div><span class="sv" style="left:173px;font-size:18px">20</span></div><div class="pt pr" style="left:4308px;top:1612.0px;width:9px;height:14px"></div><div class="sl slg" style="left:4029px;top:1603px;width:280px;height:32px"><div class="sll" style="width:86px"><span style="font-size:16px">Distance</span></div><div class="rul" style="left:100px;width:162px"></div><div class="ko" style="left:129px;top:10.0px"></div><span class="sv" style="left:145px;font-size:18px">0.200</span></div><div class="pt pr" style="left:4588px;top:1613.0px;width:9px;height:14px"></div><div class="sl slg" style="left:4332px;top:1604px;width:257px;height:32px"><div class="sll" style="width:61px"><span style="font-size:16px">Level</span></div><div class="rul" style="left:75px;width:164px"></div><div class="ko" style="left:121px;top:10.0px"></div><span class="sv" style="left:137px;font-size:18px">3.02</span></div><div class="pt pr" style="left:4039px;top:1709.5px;width:9px;height:14px"></div><div class="sl sly" style="left:3664px;top:1701px;width:376px;height:31px"><div class="sll" style="width:186px"><span style="font-size:17.2px">Corner Pinch [Vertex]</span></div><div class="rul" style="left:200px;width:158px"></div><div class="ko" style="left:317px;top:9.5px"></div><span class="sv" style="right:63px;font-size:18px">0.765</span></div><div class="pt pr" style="left:4039px;top:1749.5px;width:9px;height:14px"></div><div class="sl sly" style="left:3664px;top:1741px;width:376px;height:31px"><div class="sll" style="width:169px"><span style="font-size:17.2px">Gap Width [Vertex]</span></div><div class="rul" style="left:183px;width:175px"></div><div class="ko" style="left:336px;top:9.5px"></div><span class="sv" style="right:44px;font-size:18px">0.897</span></div><div class="pt pr" style="left:4039px;top:1789.5px;width:9px;height:14px"></div><div class="sl sly" style="left:3664px;top:1781px;width:376px;height:31px"><div class="sll" style="width:177px"><span style="font-size:17.2px">Band Width [Vertex]</span></div><div class="rul" style="left:191px;width:167px"></div><div class="ko" style="left:248px;top:9.5px"></div><span class="sv" style="left:264px;font-size:18px">0.363</span></div><div class="pt pr" style="left:4007px;top:1844.5px;width:9px;height:14px"></div><div class="sl sly" style="left:3664px;top:1836px;width:344px;height:31px"><div class="sll" style="width:64px"><span style="font-size:16px">Value</span></div><div class="rul" style="left:78px;width:248px"></div><div class="ko" style="left:101px;top:9.5px"></div><span class="sv" style="left:117px;font-size:18px">0.114</span></div><div class="pt pr" style="left:4007px;top:1888.5px;width:9px;height:14px"></div><div class="sl sly" style="left:3664px;top:1880px;width:344px;height:31px"><div class="sll" style="width:137px"><span style="font-size:17.2px">Closed [Vertex]</span></div><div class="rul" style="left:151px;width:175px"></div><div class="ko" style="left:162px;top:9.5px"></div><span class="sv" style="left:178px;font-size:18px">0.090</span></div><div class="pt pl" style="left:4041px;top:1844.0px;width:9px;height:14px"></div><div class="pt pr" style="left:4147px;top:1844.0px;width:9px;height:14px"></div><div class="c light" style="left:4049px;top:1829px;width:99px;height:44px;background:linear-gradient(180deg,#fafafa,#e4e4e4 30%,#d4d4d4)"><span class="lb" style="left:11px;top:12.0px;font-size:15px">x</span><span class="lb" style="right:11px;top:12.0px;font-size:15px">y</span><div class="ic" style="left:33.5px;top:6.0px"><svg width="28" height="28" viewBox="0 0 28 28"><rect x="1.5" y="1.5" width="25" height="25" rx="4" fill="#f2f2f2" stroke="#777" stroke-width="1.5"/><text x="14" y="21" font-size="17" font-weight="bold" font-style="italic" text-anchor="middle" font-family="Liberation Serif">-x</text></svg></div></div><div class="pt pl" style="left:4183px;top:1707.0555555555557px;width:9px;height:14px"></div><div class="pt pl" style="left:4183px;top:1739.1666666666667px;width:9px;height:14px"></div><div class="pt pl" style="left:4183px;top:1771.2777777777778px;width:9px;height:14px"></div><div class="pt pl" style="left:4183px;top:1803.388888888889px;width:9px;height:14px"></div><div class="pt pl" style="left:4183px;top:1835.5px;width:9px;height:14px"></div><div class="pt pl" style="left:4183px;top:1867.611111111111px;width:9px;height:14px"></div><div class="pt pl" style="left:4183px;top:1899.7222222222222px;width:9px;height:14px"></div><div class="pt pl" style="left:4183px;top:1931.8333333333335px;width:9px;height:14px"></div><div class="pt pl" style="left:4183px;top:1963.9444444444443px;width:9px;height:14px"></div><div class="pt pr" style="left:4316px;top:1763.25px;width:9px;height:14px"></div><div class="pt pr" style="left:4316px;top:1907.75px;width:9px;height:14px"></div><div class="c" style="left:4191px;top:1695px;width:126px;height:295px"><span class="lb" style="left:20px;top:9.8px;font-size:15px">G</span><span class="lb" style="left:20px;top:41.9px;font-size:15px">I</span><span class="lb" style="left:20px;top:74.0px;font-size:15px">T0</span><span class="lb" style="left:20px;top:106.1px;font-size:15px">T1</span><span class="lb" style="left:20px;top:138.2px;font-size:15px">T2</span><span class="lb" style="left:20px;top:170.3px;font-size:15px">D</span><span class="lb" style="left:20px;top:202.4px;font-size:15px">C</span><span class="lb" style="left:20px;top:234.5px;font-size:15px">F</span><span class="lb" style="left:20px;top:266.6px;font-size:15px">clr</span><span class="lb" style="right:12px;top:66.0px;font-size:15px">out</span><span class="lb" style="right:12px;top:210.4px;font-size:15px">A</span><div class="ic" style="left:49.0px;top:133.5px"><svg width="28" height="28" viewBox="0 0 28 28"><g transform="rotate(45 14 14)" fill="none" stroke="#c06018" stroke-width="2.4"><rect x="5" y="5" width="18" height="18"/><rect x="9" y="9" width="10" height="10"/></g><g transform="rotate(45 14 14)" fill="none" stroke="#f8c040" stroke-width="1.2"><rect x="5" y="5" width="18" height="18"/><rect x="9" y="9" width="10" height="10"/></g></svg></div></div><div class="pt pr" style="left:4625px;top:1795.0px;width:9px;height:14px"></div><div class="sl slg" style="left:4345px;top:1786px;width:281px;height:32px"><div class="sll" style="width:87px"><span style="font-size:16px">Distance</span></div><div class="rul" style="left:101px;width:162px"></div><div class="ko" style="left:126px;top:10.0px"></div><span class="sv" style="left:142px;font-size:18px">0.187</span></div><div class="pt pr" style="left:4898px;top:1795.0px;width:9px;height:14px"></div><div class="sl slg" style="left:4643px;top:1786px;width:256px;height:32px"><div class="sll" style="width:60px"><span style="font-size:16px">Level</span></div><div class="rul" style="left:74px;width:164px"></div><div class="ko" style="left:91px;top:10.0px"></div><span class="sv" style="left:107px;font-size:18px">1.29</span></div><div class="pt pl" style="left:4438px;top:1899.1666666666667px;width:9px;height:14px"></div><div class="pt pl" style="left:4438px;top:1931.5px;width:9px;height:14px"></div><div class="pt pl" style="left:4438px;top:1963.8333333333333px;width:9px;height:14px"></div><div class="pt pr" style="left:4555px;top:1931.5px;width:9px;height:14px"></div><div class="c" style="left:4446px;top:1887px;width:110px;height:103px"><span class="lb" style="left:12px;top:9.9px;font-size:15px">M</span><span class="lb" style="left:12px;top:42.2px;font-size:15px">D</span><span class="lb" style="left:12px;top:74.5px;font-size:15px">T</span><span class="lb" style="right:12px;top:42.2px;font-size:15px">O</span><div class="ic" style="left:41.0px;top:37.5px"><svg width="28" height="28" viewBox="0 0 28 28"><path d="M8,6 L17,3 L22,6 L22,22 L13,26 L8,22 Z" fill="#2a5a4a" stroke="#000" stroke-width="1.6"/><path d="M8,6 L13,9 L13,26" stroke="#9cc" stroke-width="1.2" fill="none"/><path d="M16,10 H19 M16,10 V15" stroke="#dfe" stroke-width="1.4"/></svg></div></div><div class="pt pl" style="left:4773px;top:1899.1666666666667px;width:9px;height:14px"></div><div class="pt pl" style="left:4773px;top:1931.5px;width:9px;height:14px"></div><div class="pt pl" style="left:4773px;top:1963.8333333333333px;width:9px;height:14px"></div><div class="pt pr" style="left:4892px;top:1931.5px;width:9px;height:14px"></div><div class="c" style="left:4781px;top:1887px;width:112px;height:103px"><span class="lb" style="left:12px;top:9.9px;font-size:15px">M</span><span class="lb" style="left:12px;top:42.2px;font-size:15px">L</span><span class="lb" style="left:12px;top:74.5px;font-size:15px">S</span><span class="lb" style="right:12px;top:42.2px;font-size:15px">O</span><div class="ic" style="left:42.0px;top:37.5px"><svg width="28" height="28" viewBox="0 0 28 28"><defs><radialGradient id="rg" cx="40%" cy="35%" r="65%"><stop offset="0" stop-color="#ff9a9a"/><stop offset=".35" stop-color="#e0101a"/><stop offset="1" stop-color="#7a0008"/></radialGradient></defs><path d="M14,3 C22,3 27,12 26,20 C25,26 18,27 14,26 C8,27 2,25 2,19 C2,11 7,3 14,3 Z" fill="url(#rg)" stroke="#400" stroke-width="1"/></svg></div></div><div class="pt pl" style="left:3656px;top:2097.75px;width:9px;height:14px"></div><div class="pt pl" style="left:3656px;top:2129.25px;width:9px;height:14px"></div><div class="pt pr" style="left:3770px;top:2113.5px;width:9px;height:14px"></div><div class="c" style="left:3664px;top:2086px;width:107px;height:69px"><span class="lb" style="left:12px;top:9.4px;font-size:15px">B</span><span class="lb" style="left:12px;top:41.0px;font-size:15px">S</span><span class="lb" style="right:12px;top:25.2px;font-size:15px">M</span><div class="ic" style="left:39.5px;top:20.5px"><svg width="28" height="28" viewBox="0 0 28 28"><rect x="4" y="4" width="12" height="22" fill="#f60" stroke="#a30" stroke-width="1"/><rect x="16" y="4" width="8" height="12" fill="#f60" stroke="#a30" stroke-width="1"/><path d="M4,9 H24 M4,14 H24 M4,19 H16 M8,4 V26 M12,4 V26 M20,4 V16" stroke="#c20" stroke-width="0.8"/></svg></div></div><div class="pt pl" style="left:3833px;top:2113.5px;width:9px;height:14px"></div><div class="pt pr" style="left:3954px;top:2097.75px;width:9px;height:14px"></div><div class="pt pr" style="left:3954px;top:2129.25px;width:9px;height:14px"></div><div class="c" style="left:3841px;top:2086px;width:114px;height:69px"><span class="lb" style="left:12px;top:25.2px;font-size:15px">M</span><span class="lb" style="right:12px;top:9.4px;font-size:15px">M</span><span class="lb" style="right:12px;top:41.0px;font-size:15px">N</span><div class="ic" style="left:43.0px;top:20.5px"><svg width="28" height="28" viewBox="0 0 28 28"><rect x="2" y="2" width="13" height="13" fill="#f70" stroke="#000" stroke-width="1.5"/><path d="M12,12 L20,19" stroke="#c00" stroke-width="1.8"/><path d="M12,26 L26,26 L26,12 Z" fill="#ccc" stroke="#000" stroke-width="1.5"/></svg></div></div><div class="pt pl" style="left:3989px;top:2097.75px;width:9px;height:14px"></div><div class="pt pl" style="left:3989px;top:2129.25px;width:9px;height:14px"></div><div class="pt pr" style="left:4107px;top:2113.5px;width:9px;height:14px"></div><div class="c" style="left:3997px;top:2086px;width:111px;height:69px"><span class="lb" style="left:12px;top:9.4px;font-size:15px">M</span><span class="lb" style="left:12px;top:41.0px;font-size:15px">M</span><span class="lb" style="right:12px;top:25.2px;font-size:15px">O</span><div class="ic" style="left:41.5px;top:20.5px"><svg width="28" height="28" viewBox="0 0 28 28"><circle cx="14" cy="14" r="7" fill="#f4a" stroke="#000" stroke-width="2"/><g fill="#fff" stroke="#000" stroke-width="1"><circle cx="14" cy="3" r="2.2"/><circle cx="14" cy="25" r="2.2"/><circle cx="3" cy="14" r="2.2"/><circle cx="25" cy="14" r="2.2"/><circle cx="6" cy="6" r="2.2"/><circle cx="22" cy="22" r="2.2"/><circle cx="22" cy="6" r="2.2"/><circle cx="6" cy="22" r="2.2"/></g><circle cx="14" cy="14" r="3" fill="#fb0"/></svg></div></div><div class="pt pl" style="left:4173px;top:2097.8333333333335px;width:9px;height:14px"></div><div class="pt pl" style="left:4173px;top:2129.5px;width:9px;height:14px"></div><div class="pt pl" style="left:4173px;top:2161.1666666666665px;width:9px;height:14px"></div><div class="pt pr" style="left:4291px;top:2129.5px;width:9px;height:14px"></div><div class="c" style="left:4181px;top:2086px;width:111px;height:101px"><span class="lb" style="left:12px;top:9.5px;font-size:15px">M</span><span class="lb" style="left:12px;top:41.2px;font-size:15px">D</span><span class="lb" style="left:12px;top:72.9px;font-size:15px">T</span><span class="lb" style="right:12px;top:41.2px;font-size:15px">O</span><div class="ic" style="left:41.5px;top:36.5px"><svg width="28" height="28" viewBox="0 0 28 28"><path d="M3,4 L26,8 L20,26 L6,24 Z" fill="#1fbf2a" stroke="#082" stroke-width="2.2"/><path d="M9,11 L19,12 L16,20 L10,19 Z" fill="#7a7a8a" stroke="#000" stroke-width="1.5"/><path d="M3,4 L9,11" stroke="#dfe" stroke-width="2"/></svg></div></div><div class="pt pl" style="left:4320px;top:2097.8333333333335px;width:9px;height:14px"></div><div class="pt pl" style="left:4320px;top:2129.5px;width:9px;height:14px"></div><div class="pt pl" style="left:4320px;top:2161.1666666666665px;width:9px;height:14px"></div><div class="pt pr" style="left:4438px;top:2129.5px;width:9px;height:14px"></div><div class="c" style="left:4328px;top:2086px;width:111px;height:101px"><span class="lb" style="left:12px;top:9.5px;font-size:15px">M</span><span class="lb" style="left:12px;top:41.2px;font-size:15px">D</span><span class="lb" style="left:12px;top:72.9px;font-size:15px">T</span><span class="lb" style="right:12px;top:41.2px;font-size:15px">O</span><div class="ic" style="left:41.5px;top:36.5px"><svg width="28" height="28" viewBox="0 0 28 28"><path d="M8,6 L17,3 L22,6 L22,22 L13,26 L8,22 Z" fill="#2a5a4a" stroke="#000" stroke-width="1.6"/><path d="M8,6 L13,9 L13,26" stroke="#9cc" stroke-width="1.2" fill="none"/><path d="M16,10 H19 M16,10 V15" stroke="#dfe" stroke-width="1.4"/></svg></div></div><div class="pt pl" style="left:4489px;top:2097.8333333333335px;width:9px;height:14px"></div><div class="pt pl" style="left:4489px;top:2129.5px;width:9px;height:14px"></div><div class="pt pl" style="left:4489px;top:2161.1666666666665px;width:9px;height:14px"></div><div class="pt pr" style="left:4607px;top:2129.5px;width:9px;height:14px"></div><div class="c" style="left:4497px;top:2086px;width:111px;height:101px"><span class="lb" style="left:12px;top:9.5px;font-size:15px">M</span><span class="lb" style="left:12px;top:41.2px;font-size:15px">L</span><span class="lb" style="left:12px;top:72.9px;font-size:15px">S</span><span class="lb" style="right:12px;top:41.2px;font-size:15px">O</span><div class="ic" style="left:41.5px;top:36.5px"><svg width="28" height="28" viewBox="0 0 28 28"><defs><radialGradient id="rg" cx="40%" cy="35%" r="65%"><stop offset="0" stop-color="#ff9a9a"/><stop offset=".35" stop-color="#e0101a"/><stop offset="1" stop-color="#7a0008"/></radialGradient></defs><path d="M14,3 C22,3 27,12 26,20 C25,26 18,27 14,26 C8,27 2,25 2,19 C2,11 7,3 14,3 Z" fill="url(#rg)" stroke="#400" stroke-width="1"/></svg></div></div><div class="pt pr" style="left:4180px;top:2058.5px;width:9px;height:14px"></div><div class="sl slg" style="left:3861px;top:2050px;width:320px;height:31px"><div class="sll" style="width:86px"><span style="font-size:16px">Distance</span></div><div class="rul" style="left:100px;width:202px"></div><div class="ko" style="left:200px;top:9.5px"></div><span class="sv" style="right:124px;font-size:18px">51.42</span></div><div class="pt pr" style="left:4529px;top:2057.5px;width:9px;height:14px"></div><div class="sl slg" style="left:4274px;top:2049px;width:256px;height:31px"><div class="sll" style="width:61px"><span style="font-size:16px">Level</span></div><div class="rul" style="left:75px;width:163px"></div><div class="ko" style="left:159px;top:9.5px"></div><span class="sv" style="right:101px;font-size:18px">2.713</span></div><div class="pt pr" style="left:4195px;top:2221.0px;width:9px;height:14px"></div><div class="sl slg" style="left:3918px;top:2212px;width:278px;height:32px"><div class="sll" style="width:63px"><span style="font-size:16px">Value</span></div><div class="rul" style="left:77px;width:183px"></div><div class="ko" style="left:90px;top:10.0px"></div><span class="sv" style="left:106px;font-size:18px">0.189</span></div><div class="pt pl" style="left:4294px;top:2214.5px;width:9px;height:14px"></div><div class="pt pr" style="left:4399px;top:2214.5px;width:9px;height:14px"></div><div class="c light" style="left:4302px;top:2199px;width:98px;height:45px;background:linear-gradient(180deg,#fafafa,#e4e4e4 30%,#d4d4d4)"><span class="lb" style="left:11px;top:12.5px;font-size:15px">x</span><span class="lb" style="right:11px;top:12.5px;font-size:15px">y</span><div class="ic" style="left:33.0px;top:6.5px"><svg width="28" height="28" viewBox="0 0 28 28"><rect x="1.5" y="1.5" width="25" height="25" rx="4" fill="#f2f2f2" stroke="#777" stroke-width="1.5"/><text x="14" y="21" font-size="17" font-weight="bold" font-style="italic" text-anchor="middle" font-family="Liberation Serif">-x</text></svg></div></div><div class="pt pl" style="left:3995px;top:2394.0px;width:9px;height:14px"></div><div class="pt pl" style="left:3995px;top:2426.0px;width:9px;height:14px"></div><div class="pt pl" style="left:3995px;top:2458.0px;width:9px;height:14px"></div><div class="pt pl" style="left:3995px;top:2490.0px;width:9px;height:14px"></div><div class="pt pr" style="left:4165px;top:2410.0px;width:9px;height:14px"></div><div class="pt pr" style="left:4165px;top:2474.0px;width:9px;height:14px"></div><div class="c" style="left:4003px;top:2382px;width:163px;height:134px"><span class="lb" style="left:12px;top:9.7px;font-size:15px">Srf</span><span class="lb" style="left:12px;top:41.7px;font-size:15px">U</span><span class="lb" style="left:12px;top:73.7px;font-size:15px">V</span><span class="lb" style="left:12px;top:105.7px;font-size:15px">t</span><span class="lb" style="right:12px;top:25.7px;font-size:15px">Cells</span><span class="lb" style="right:12px;top:89.7px;font-size:15px">Centers</span><div class="ic" style="left:42.5px;top:53.0px"><svg width="28" height="28" viewBox="0 0 28 28"><g fill="#bdf" stroke="#27a" stroke-width="2"><circle cx="9" cy="9" r="6"/><circle cx="9" cy="20" r="6"/><circle cx="19" cy="15" r="6"/></g><g fill="#fff" stroke="#27a" stroke-width="1.2"><rect x="7" y="7" width="4" height="4"/><rect x="7" y="18" width="4" height="4"/><rect x="17" y="13" width="4" height="4"/></g></svg></div></div><div class="pt pl" style="left:4203px;top:2413.5px;width:9px;height:14px"></div><div class="pt pr" style="left:4291px;top:2413.5px;width:9px;height:14px"></div><div class="c" style="left:4211px;top:2401px;width:81px;height:39px"><div class="ic" style="left:23.5px;top:2px"><svg width="32" height="28" viewBox="0 0 28 28"><path d="M7,3 H21 L27,14 L21,25 H7 L1,14 Z" fill="#333" stroke="#000" stroke-width="1"/><ellipse cx="14" cy="14" rx="7" ry="5" fill="none" stroke="#ddd" stroke-width="2" transform="rotate(-30 14 14)"/><ellipse cx="14" cy="14" rx="3" ry="2" fill="none" stroke="#ddd" stroke-width="1.5" transform="rotate(-30 14 14)"/></svg></div></div><div class="pt pl" style="left:4321px;top:2393.8333333333335px;width:9px;height:14px"></div><div class="pt pl" style="left:4321px;top:2425.5px;width:9px;height:14px"></div><div class="pt pl" style="left:4321px;top:2457.1666666666665px;width:9px;height:14px"></div><div class="pt pr" style="left:4439px;top:2425.5px;width:9px;height:14px"></div><div class="c" style="left:4329px;top:2382px;width:111px;height:101px"><span class="lb" style="left:12px;top:9.5px;font-size:15px">M</span><span class="lb" style="left:12px;top:41.2px;font-size:15px">F</span><span class="lb" style="left:12px;top:72.9px;font-size:15px">O</span><span class="lb" style="right:12px;top:41.2px;font-size:15px">O</span><div class="ic" style="left:41.5px;top:36.5px"><svg width="28" height="28" viewBox="0 0 28 28"><path d="M14,2 L25,8 L25,20 L14,26 L3,20 L3,8 Z" fill="#8cd4f0" stroke="#246" stroke-width="2"/><path d="M7,18 L21,10" stroke="#fff" stroke-width="2.2"/></svg></div></div><div class="pt pl" style="left:4547px;top:2393.9375px;width:9px;height:14px"></div><div class="pt pl" style="left:4547px;top:2425.8125px;width:9px;height:14px"></div><div class="pt pl" style="left:4547px;top:2457.6875px;width:9px;height:14px"></div><div class="pt pl" style="left:4547px;top:2489.5625px;width:9px;height:14px"></div><div class="pt pl" style="left:4547px;top:2521.4375px;width:9px;height:14px"></div><div class="pt pl" style="left:4547px;top:2553.3125px;width:9px;height:14px"></div><div class="pt pl" style="left:4547px;top:2585.1875px;width:9px;height:14px"></div><div class="pt pl" style="left:4547px;top:2617.0625px;width:9px;height:14px"></div><div class="pt pr" style="left:4680px;top:2441.75px;width:9px;height:14px"></div><div class="pt pr" style="left:4680px;top:2569.25px;width:9px;height:14px"></div><div class="c" style="left:4555px;top:2382px;width:126px;height:261px"><span class="lb" style="left:20px;top:9.6px;font-size:15px">G</span><span class="lb" style="left:20px;top:41.5px;font-size:15px">I</span><span class="lb" style="left:20px;top:73.4px;font-size:15px">T0</span><span class="lb" style="left:20px;top:105.3px;font-size:15px">D</span><span class="lb" style="left:20px;top:137.1px;font-size:15px">N</span><span class="lb" style="left:20px;top:169.0px;font-size:15px">S</span><span class="lb" style="left:20px;top:200.9px;font-size:15px">C</span><span class="lb" style="left:20px;top:232.8px;font-size:15px">clr</span><span class="lb" style="right:12px;top:57.5px;font-size:15px">out</span><span class="lb" style="right:12px;top:184.9px;font-size:15px">A</span><div class="ic" style="left:49.0px;top:116.5px"><svg width="28" height="28" viewBox="0 0 28 28"><path d="M14,2 L27,25 L1,25 Z" fill="#e24060" stroke="#600" stroke-width="1.5"/><path d="M14,10 L20,21 L8,21 Z" fill="#888" stroke="#400" stroke-width="1.4"/></svg></div></div><div class="pt pl" style="left:4723px;top:2393.8333333333335px;width:9px;height:14px"></div><div class="pt pl" style="left:4723px;top:2425.5px;width:9px;height:14px"></div><div class="pt pl" style="left:4723px;top:2457.1666666666665px;width:9px;height:14px"></div><div class="pt pr" style="left:4840px;top:2425.5px;width:9px;height:14px"></div><div class="c" style="left:4731px;top:2382px;width:110px;height:101px"><span class="lb" style="left:12px;top:9.5px;font-size:15px">M</span><span class="lb" style="left:12px;top:41.2px;font-size:15px">L</span><span class="lb" style="left:12px;top:72.9px;font-size:15px">S</span><span class="lb" style="right:12px;top:41.2px;font-size:15px">O</span><div class="ic" style="left:41.0px;top:36.5px"><svg width="28" height="28" viewBox="0 0 28 28"><defs><radialGradient id="rg" cx="40%" cy="35%" r="65%"><stop offset="0" stop-color="#ff9a9a"/><stop offset=".35" stop-color="#e0101a"/><stop offset="1" stop-color="#7a0008"/></radialGradient></defs><path d="M14,3 C22,3 27,12 26,20 C25,26 18,27 14,26 C8,27 2,25 2,19 C2,11 7,3 14,3 Z" fill="url(#rg)" stroke="#400" stroke-width="1"/></svg></div></div><div class="pt pl" style="left:4917px;top:2393.8333333333335px;width:9px;height:14px"></div><div class="pt pl" style="left:4917px;top:2425.5px;width:9px;height:14px"></div><div class="pt pl" style="left:4917px;top:2457.1666666666665px;width:9px;height:14px"></div><div class="pt pr" style="left:5036px;top:2425.5px;width:9px;height:14px"></div><div class="c light" style="left:4925px;top:2382px;width:112px;height:101px"><span class="lb" style="left:12px;top:9.5px;font-size:15px">M</span><span class="lb" style="left:12px;top:41.2px;font-size:15px">D</span><span class="lb" style="left:12px;top:72.9px;font-size:15px">T</span><span class="lb" style="right:12px;top:41.2px;font-size:15px">O</span><div class="ic" style="left:42.0px;top:36.5px"><svg width="28" height="28" viewBox="0 0 28 28"><path d="M8,6 L17,3 L22,6 L22,22 L13,26 L8,22 Z" fill="#2a5a4a" stroke="#000" stroke-width="1.6"/><path d="M8,6 L13,9 L13,26" stroke="#9cc" stroke-width="1.2" fill="none"/><path d="M16,10 H19 M16,10 V15" stroke="#dfe" stroke-width="1.4"/></svg></div></div><div class="pt pr" style="left:4629px;top:2314.5px;width:9px;height:14px"></div><div class="sl slg" style="left:4375px;top:2306px;width:255px;height:31px"><div class="sll" style="width:62px"><span style="font-size:16px">Level</span></div><div class="rul" style="left:76px;width:161px"></div><div class="ko" style="left:87px;top:9.5px"></div><span class="sv" style="left:103px;font-size:18px">1.888</span></div><div class="pt pr" style="left:4936px;top:2318.0px;width:9px;height:14px"></div><div class="sl slg" style="left:4659px;top:2309px;width:278px;height:32px"><div class="sll" style="width:86px"><span style="font-size:16px">Distance</span></div><div class="rul" style="left:100px;width:160px"></div><div class="ko" style="left:108px;top:10.0px"></div><span class="sv" style="left:124px;font-size:18px">0.171</span></div><div class="pt pr" style="left:3959px;top:2418.5px;width:9px;height:14px"></div><div class="sl slg" style="left:3660px;top:2410px;width:300px;height:31px"><div class="sll" style="width:107px"><span style="font-size:16px">U Divisions</span></div><div class="rul" style="left:121px;width:161px"></div><div class="kd" style="left:137px;top:10.5px"></div><span class="sv" style="left:152px;font-size:18px">2</span></div><div class="pt pr" style="left:3963px;top:2471.0px;width:9px;height:14px"></div><div class="sl slg" style="left:3662px;top:2462px;width:302px;height:32px"><div class="sll" style="width:105px"><span style="font-size:16px">V Divisions</span></div><div class="rul" style="left:119px;width:165px"></div><div class="kd" style="left:281px;top:11.0px"></div><span class="sv" style="right:26px;font-size:18px">10</span></div><div class="pt pr" style="left:4483px;top:2516.0px;width:9px;height:14px"></div><div class="sl slg" style="left:4170px;top:2506px;width:314px;height:34px"><div class="sll" style="width:79px"><span style="font-size:16px">Stellate</span></div><div class="rul" style="left:93px;width:203px"></div><div class="ko" style="left:188px;top:11.0px"></div><span class="sv" style="left:204px;font-size:18px">0.489</span></div>
<div class="bport" style="left:42px;top:2671.5px;width:28px;height:50px;border-radius:25px 0 0 25px;border:10px solid #0a0a0a;border-right:none"></div><div class="bport" style="left:875px;top:2671.5px;width:28px;height:50px;border-radius:0 25px 25px 0;border:10px solid #0a0a0a;border-left:none"></div><div style="position:absolute;left:65px;top:2540px;width:815px;height:313px;box-sizing:border-box;border:4.5px solid #0a0a0a;border-radius:16px;background:#fff;box-shadow:1px 2px 2px rgba(0,0,0,.18)"><div style="position:absolute;left:8px;top:9px;right:8px;bottom:8px;background:#e4e4e4;border-radius:5px;box-shadow:inset 1px 1px 1px rgba(0,0,0,.08)"></div></div><div style="position:absolute;left:149.5px;width:600px;text-align:center;top:2549.0px;font-family:'Liberation Mono',monospace;font-size:47.5px;letter-spacing:5.2px;text-indent:5.2px;color:#1e1e1e;-webkit-text-stroke:1.3px #1e1e1e;white-space:pre;line-height:1">T0=0.765</div><div style="position:absolute;left:149.5px;width:600px;text-align:center;top:2610.2px;font-family:'Liberation Mono',monospace;font-size:47.5px;letter-spacing:5.2px;text-indent:5.2px;color:#1e1e1e;-webkit-text-stroke:1.3px #1e1e1e;white-space:pre;line-height:1">T1=0.897</div><div style="position:absolute;left:149.5px;width:600px;text-align:center;top:2671.4px;font-family:'Liberation Mono',monospace;font-size:47.5px;letter-spacing:5.2px;text-indent:5.2px;color:#1e1e1e;-webkit-text-stroke:1.3px #1e1e1e;white-space:pre;line-height:1">T2=0.363</div><div style="position:absolute;left:149.5px;width:600px;text-align:center;top:2732.6px;font-family:'Liberation Mono',monospace;font-size:47.5px;letter-spacing:5.2px;text-indent:5.2px;color:#1e1e1e;-webkit-text-stroke:1.3px #1e1e1e;white-space:pre;line-height:1">V=0.114</div><div style="position:absolute;left:149.5px;width:600px;text-align:center;top:2793.8px;font-family:'Liberation Mono',monospace;font-size:47.5px;letter-spacing:5.2px;text-indent:5.2px;color:#1e1e1e;-webkit-text-stroke:1.3px #1e1e1e;white-space:pre;line-height:1">C=0.090</div><div class="bport" style="left:38px;top:2940.5px;width:28px;height:50px;border-radius:25px 0 0 25px;border:10px solid #0a0a0a;border-right:none"></div><div class="bport" style="left:870px;top:2940.5px;width:28px;height:50px;border-radius:0 25px 25px 0;border:10px solid #0a0a0a;border-left:none"></div><div style="position:absolute;left:61px;top:2910px;width:814px;height:111px;box-sizing:border-box;border:4.5px solid #0a0a0a;border-radius:16px;background:#fff;box-shadow:1px 2px 2px rgba(0,0,0,.18)"><div style="position:absolute;left:8px;top:9px;right:8px;bottom:8px;background:#e4e4e4;border-radius:5px;box-shadow:inset 1px 1px 1px rgba(0,0,0,.08)"></div></div><div style="position:absolute;left:144.8px;width:600px;text-align:center;top:2940.5px;font-family:'Liberation Mono',monospace;font-size:47.5px;letter-spacing:5.2px;text-indent:5.2px;color:#1e1e1e;-webkit-text-stroke:1.3px #1e1e1e;white-space:pre;line-height:1">U COUNT 20</div><div class="bport" style="left:42px;top:3105.5px;width:28px;height:50px;border-radius:25px 0 0 25px;border:10px solid #0a0a0a;border-right:none"></div><div class="bport" style="left:875px;top:3105.5px;width:28px;height:50px;border-radius:0 25px 25px 0;border:10px solid #0a0a0a;border-left:none"></div><div style="position:absolute;left:65px;top:3058px;width:815px;height:145px;box-sizing:border-box;border:4.5px solid #0a0a0a;border-radius:16px;background:#fff;box-shadow:1px 2px 2px rgba(0,0,0,.18)"><div style="position:absolute;left:8px;top:9px;right:8px;bottom:8px;background:#e4e4e4;border-radius:5px;box-shadow:inset 1px 1px 1px rgba(0,0,0,.08)"></div></div><div style="position:absolute;left:150.3px;width:600px;text-align:center;top:3074px;font-family:'Liberation Mono',monospace;font-size:47.5px;letter-spacing:5.2px;text-indent:5.2px;color:#1e1e1e;-webkit-text-stroke:1.3px #1e1e1e;white-space:pre;line-height:1">LENGTH=2.0</div><div style="position:absolute;left:150.3px;width:600px;text-align:center;top:3136px;font-family:'Liberation Mono',monospace;font-size:47.5px;letter-spacing:5.2px;text-indent:5.2px;color:#1e1e1e;-webkit-text-stroke:1.3px #1e1e1e;white-space:pre;line-height:1">V COUNT 3</div><div id="t_par" class="big" style="left:988.0px;top:3138.4px;font-size:73.98px;transform-origin:0 0;transform:scaleX(0.8240)">PARAMETERS</div><div id="t_plug" class="big" style="left:3841.9px;top:3072.0px;font-size:73.34px;transform-origin:0 0;transform:scaleX(0.8562)">PLUGIN USED : WEAVERBIRD + MESH+</div><div id="t_mod" class="big" style="left:4619.0px;top:3159.1px;font-size:94.42px;font-weight:bold;transform-origin:0 0;transform:scaleX(0.9709)">MODEL 3</div>
</div>
</body></html>
